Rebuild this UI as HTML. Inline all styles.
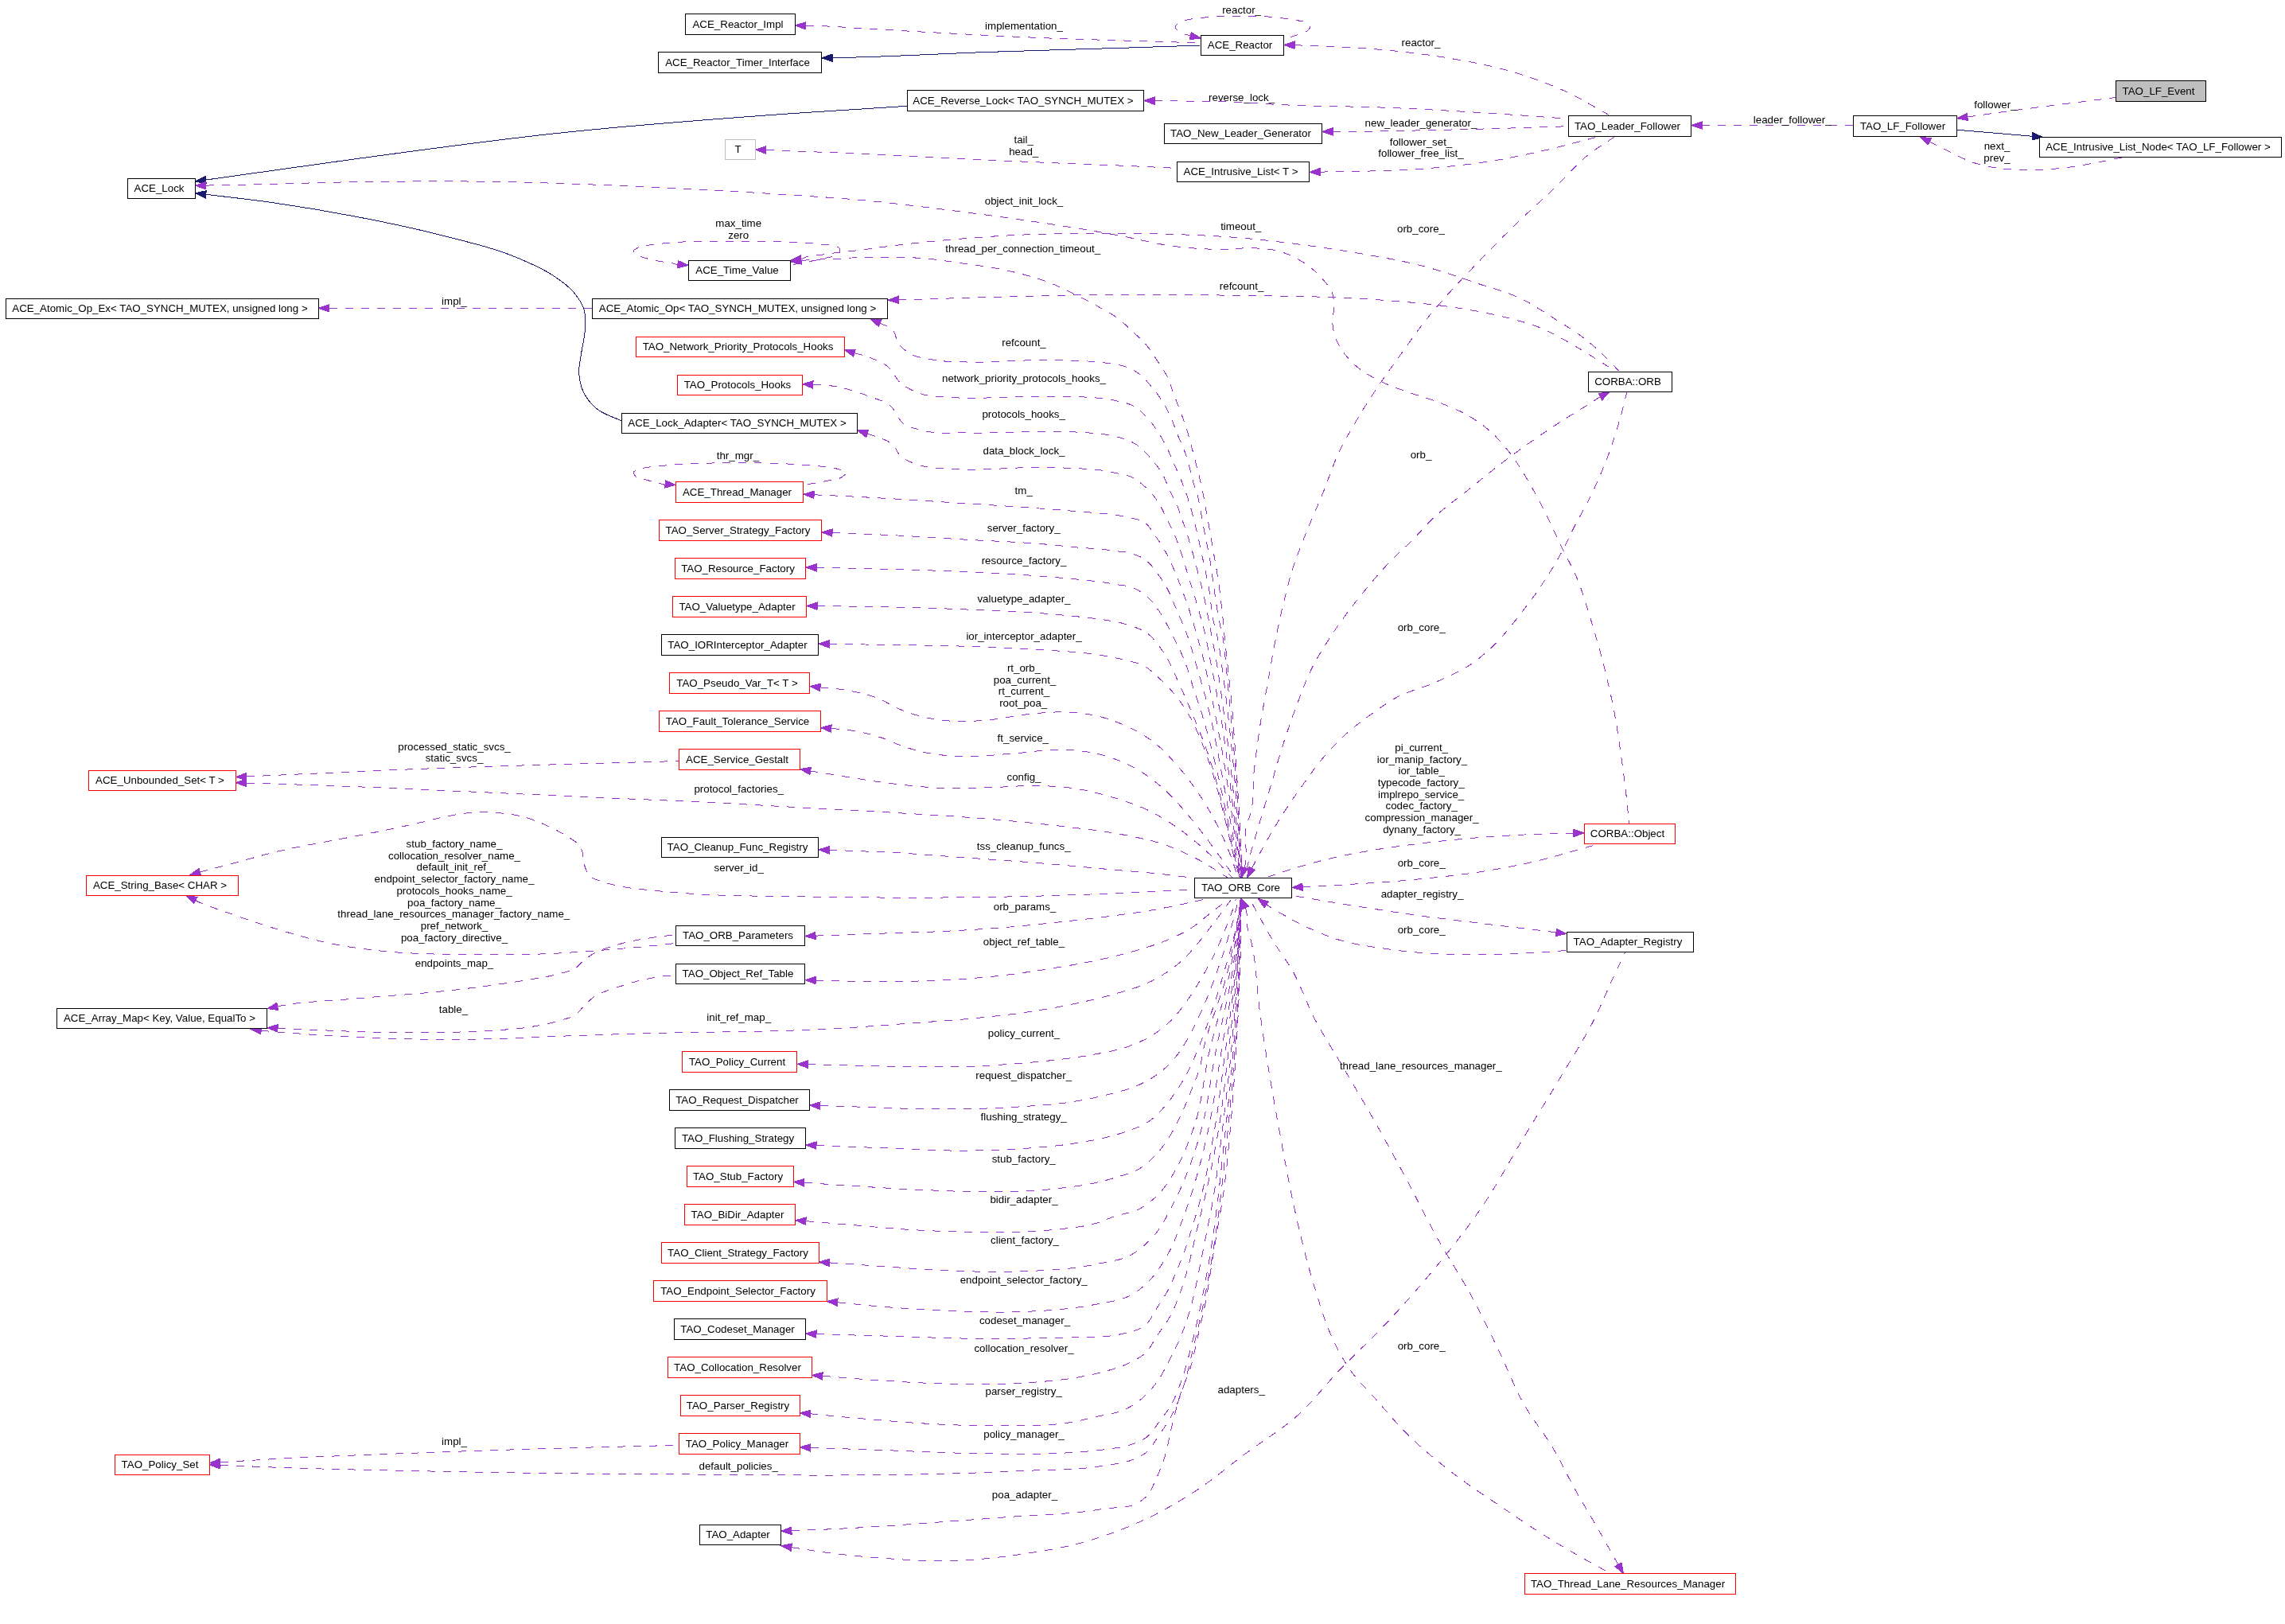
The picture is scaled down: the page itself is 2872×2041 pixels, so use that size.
<!DOCTYPE html>
<html><head><meta charset="utf-8"><title>TAO_LF_Event collaboration graph</title>
<style>html,body{margin:0;padding:0;background:#fff}svg{display:block;will-change:transform}</style></head>
<body>
<svg width="2872" height="2041" viewBox="0 0 2872 2041">
<rect width="2872" height="2041" fill="#fff"/>
<g fill="none" stroke-width="1" shape-rendering="crispEdges">
<path d="M1046.1,72.7C1050.7,72.6 1055.4,72.5 1060.0,72.4C1121.7,71.2 1183.3,67.4 1245.0,65.3C1306.3,63.2 1367.7,61.7 1429.0,59.7C1455.5,58.8 1482.1,57.9 1508.6,57.0" stroke="#191970"/>
<path d="M258.7,226.1C272.4,224.2 286.2,222.2 300.0,220.3C348.3,213.5 396.6,206.6 445.0,200.0C529.9,188.5 614.8,176.6 700.0,167.5C799.8,156.8 899.9,149.4 1000.0,142.3C1046.7,139.0 1093.5,136.3 1140.3,133.3" stroke="#191970"/>
<path d="M258.7,244.3C285.8,247.6 313.0,250.5 340.0,254.3C375.1,259.3 410.1,265.1 445.0,271.8C480.2,278.5 515.3,285.6 550.0,294.5C585.4,303.6 621.5,311.3 655.0,326.0C668.2,331.8 681.7,337.4 693.7,345.3C703.7,351.9 714.2,358.6 721.7,368.0C726.8,374.3 731.7,381.2 734.0,389.0C736.0,395.7 735.7,403.0 735.7,410.0C735.6,421.8 732.0,433.3 730.5,445.0C729.5,453.2 727.1,461.4 727.7,469.6C728.3,478.0 730.2,486.5 734.0,494.0C737.7,501.4 743.4,508.0 749.7,513.4C758.6,521.1 770.7,523.8 781.2,529.0" stroke="#191970"/>
<path d="M2554.6,171.3C2549.7,170.9 2544.9,170.4 2540.0,170.0C2513.2,167.6 2486.5,165.5 2459.7,163.2" stroke="#191970"/>
<path d="M1012.8,32.3C1018.5,32.4 1024.3,32.4 1030.0,32.6C1050.7,33.2 1071.3,35.0 1092.0,36.2C1122.7,38.0 1153.3,39.8 1184.0,41.4C1224.7,43.6 1265.3,45.8 1306.0,47.5C1347.0,49.2 1388.0,50.2 1429.0,51.5C1455.5,52.3 1482.1,53.1 1508.6,53.9" stroke="#9a32cd" stroke-dasharray="10 10"/>
<path d="M1496.3,45.1C1496.5,45.2 1496.8,45.3 1497.0,45.3C1498.8,45.7 1493.5,44.3 1491.8,43.8C1490.2,43.3 1488.6,42.9 1487.0,42.2C1484.4,41.1 1481.5,40.1 1479.7,38.0C1478.6,36.8 1477.1,35.3 1477.3,33.7C1477.4,32.3 1478.7,31.3 1479.7,30.3C1482.1,27.8 1485.8,27.1 1489.0,26.0C1491.5,25.1 1494.0,24.5 1496.6,24.0C1501.3,23.0 1506.2,22.8 1511.0,22.3C1517.7,21.6 1524.5,20.9 1531.2,20.5C1539.6,20.0 1547.9,20.2 1556.3,20.2C1565.9,20.2 1575.6,19.9 1585.2,20.4C1592.6,20.8 1600.0,21.4 1607.3,22.3C1613.8,23.1 1620.2,24.0 1626.6,25.2C1631.4,26.1 1636.8,25.8 1641.0,28.4C1643.2,29.8 1646.9,31.1 1646.8,33.7C1646.7,35.4 1645.2,36.8 1644.0,38.0C1642.2,39.8 1639.5,40.4 1637.2,41.4C1632.2,43.6 1627.0,45.1 1621.8,46.7C1619.1,47.5 1616.3,48.2 1613.6,49.0" stroke="#9a32cd" stroke-dasharray="10 10"/>
<path d="M1627.1,56.8C1634.7,57.0 1642.4,57.2 1650.0,57.5C1674.2,58.4 1698.4,59.4 1722.5,61.3C1753.3,63.8 1784.0,67.0 1814.5,72.0C1845.4,77.1 1876.5,82.7 1906.4,91.9C1927.2,98.3 1947.8,105.8 1967.6,114.9C1987.1,123.8 2005.2,135.3 2024.0,145.5" stroke="#9a32cd" stroke-dasharray="10 10"/>
<path d="M1451.3,126.7C1460.9,126.8 1470.4,126.9 1480.0,127.0C1503.7,127.3 1527.4,127.0 1551.0,128.0C1567.4,128.7 1583.7,130.2 1600.0,131.1C1651.0,133.9 1702.2,133.4 1753.2,135.7C1794.1,137.5 1834.9,139.9 1875.7,142.5C1907.4,144.5 1939.0,147.0 1970.7,149.2" stroke="#9a32cd" stroke-dasharray="10 10"/>
<path d="M1675.1,165.4C1683.4,165.3 1691.7,165.3 1700.0,165.3C1727.9,165.1 1755.9,164.5 1783.8,163.9C1824.7,163.1 1865.5,162.0 1906.4,160.8C1928.0,160.2 1949.7,159.4 1971.3,158.7" stroke="#9a32cd" stroke-dasharray="10 10"/>
<path d="M962.8,188.5C975.2,189.0 987.6,189.5 1000.0,190.0C1030.7,191.2 1061.3,192.2 1092.0,193.6C1132.8,195.4 1173.7,197.8 1214.5,199.8C1255.3,201.7 1296.2,203.6 1337.0,205.3C1367.7,206.6 1398.3,207.6 1429.0,209.0C1445.8,209.8 1462.7,210.6 1479.5,211.4" stroke="#9a32cd" stroke-dasharray="10 10"/>
<path d="M1659.3,216.1C1680.4,215.7 1701.4,215.7 1722.5,215.0C1753.2,214.0 1783.9,212.9 1814.5,209.9C1835.0,207.9 1855.4,205.5 1875.7,202.2C1896.3,198.9 1916.7,194.5 1937.0,190.0C1960.7,184.7 1984.0,178.1 2007.5,172.2" stroke="#9a32cd" stroke-dasharray="10 10"/>
<path d="M2139.3,157.5C2159.5,157.6 2179.8,157.6 2200.0,157.7C2243.0,157.8 2286.0,157.9 2329.0,158.0" stroke="#9a32cd" stroke-dasharray="10 10"/>
<path d="M2472.9,147.0C2491.4,144.4 2509.9,141.7 2528.5,139.2C2572.1,133.3 2615.7,128.1 2659.3,122.5" stroke="#9a32cd" stroke-dasharray="10 10"/>
<path d="M2425.3,178.0C2430.5,180.7 2435.7,183.4 2441.0,186.0C2455.3,193.1 2469.4,201.1 2484.7,205.7C2501.6,210.8 2519.5,212.6 2537.2,213.6C2556.1,214.6 2575.1,212.9 2594.0,211.0C2619.1,208.4 2643.7,202.2 2668.5,197.8" stroke="#9a32cd" stroke-dasharray="10 10"/>
<path d="M413.9,387.3C425.9,387.3 438.0,387.3 450.0,387.3C548.2,387.3 646.3,387.3 744.5,387.3" stroke="#9a32cd" stroke-dasharray="10 10"/>
<path d="M258.8,233.1C274.2,232.8 289.6,232.5 305.0,232.2C351.7,231.3 398.3,229.4 445.0,228.7C509.2,227.8 573.5,227.4 637.7,228.7C678.5,229.5 719.2,231.0 760.0,232.6C806.7,234.4 853.4,236.6 900.0,239.2C933.3,241.1 966.7,243.3 1000.0,245.5C1024.2,247.1 1048.4,248.5 1072.5,250.6C1113.4,254.1 1154.2,259.3 1195.0,264.4C1225.7,268.2 1256.4,272.3 1287.0,276.7C1307.4,279.6 1327.7,282.6 1348.0,285.9C1368.6,289.2 1389.1,292.8 1409.6,296.6C1430.0,300.4 1450.2,306.0 1470.8,308.8C1491.1,311.6 1511.5,313.1 1532.0,313.4C1547.3,313.6 1562.7,311.0 1578.0,311.9C1587.0,312.4 1596.2,312.8 1605.0,315.0C1614.8,317.5 1624.2,321.6 1633.0,326.7C1643.0,332.5 1652.5,339.7 1660.2,348.3C1666.0,354.8 1672.5,361.6 1675.0,370.0C1676.5,375.2 1676.4,380.8 1676.5,386.3C1676.7,393.5 1674.3,400.8 1675.0,408.0C1675.8,416.4 1678.3,424.7 1682.0,432.3C1685.9,440.4 1691.8,447.5 1698.0,454.0C1706.5,462.9 1717.3,469.5 1728.0,475.6C1739.0,481.8 1751.1,486.0 1763.0,490.5C1776.4,495.6 1790.4,498.9 1803.8,504.0C1817.6,509.3 1831.6,514.3 1844.4,521.7C1853.9,527.2 1863.1,533.5 1871.5,540.7C1881.7,549.4 1890.4,559.8 1898.6,570.4C1907.8,582.3 1915.4,595.4 1923.0,608.4C1930.8,621.6 1937.8,635.3 1944.6,649.0C1950.0,659.9 1954.8,671.0 1960.0,682.0C1967.3,697.3 1976.0,712.0 1982.5,727.7C1989.0,743.6 1993.7,760.1 1998.8,776.5C2004.6,795.3 2010.1,814.2 2015.0,833.3C2020.1,853.1 2024.7,873.0 2028.6,893.0C2032.4,912.7 2035.2,932.6 2038.0,952.5C2040.5,970.5 2042.9,988.6 2044.8,1006.7C2045.8,1016.1 2046.6,1025.6 2047.5,1035.0" stroke="#9a32cd" stroke-dasharray="10 10"/>
<path d="M851.9,332.2C852.1,332.4 852.3,332.5 852.5,332.6C854.0,333.7 848.8,331.7 847.0,331.3C843.4,330.5 839.7,330.1 836.0,329.5C832.3,328.9 828.5,328.4 824.8,327.7C820.6,326.9 816.3,325.9 812.2,324.6C807.9,323.2 803.1,322.5 799.6,319.7C798.3,318.7 796.2,317.9 796.0,316.2C795.7,314.0 799.1,312.9 801.0,311.7C805.4,308.8 811.2,309.0 816.4,308.0C822.9,306.8 829.5,306.3 836.0,305.7C843.5,305.0 850.9,304.4 858.4,304.0C869.6,303.4 880.8,303.4 892.0,303.3C906.0,303.1 920.0,303.3 934.0,303.3C948.0,303.3 962.0,303.2 976.0,303.6C987.7,303.9 999.4,304.1 1011.0,305.0C1018.0,305.5 1025.0,306.2 1032.0,307.0C1037.7,307.6 1043.5,307.5 1049.0,309.2C1050.9,309.8 1053.2,309.8 1054.5,311.3C1055.3,312.2 1055.9,313.3 1056.0,314.5C1056.1,315.9 1055.2,317.1 1054.5,318.3C1051.7,323.0 1044.3,322.4 1039.0,324.0C1032.1,326.1 1025.0,327.1 1018.0,328.5C1009.9,330.2 1001.7,331.7 993.6,333.3" stroke="#9a32cd" stroke-dasharray="10 10"/>
<path d="M1006.8,325.6C1006.9,325.6 1006.9,325.6 1007.0,325.6C1009.2,325.3 1010.9,323.7 1013.0,323.0C1018.7,321.0 1025.0,321.3 1031.0,320.4C1037.7,319.5 1044.3,318.4 1051.0,317.6C1057.5,316.8 1064.1,316.2 1070.6,315.5C1077.4,314.7 1084.2,313.9 1091.0,313.0C1095.0,312.5 1099.0,311.9 1103.0,311.3C1133.6,307.1 1164.3,303.9 1195.0,301.2C1225.6,298.5 1256.3,296.3 1287.0,295.0C1317.6,293.7 1348.3,293.6 1379.0,293.5C1409.7,293.4 1440.3,293.4 1471.0,294.4C1500.7,295.3 1530.4,296.5 1560.0,299.0C1582.6,300.9 1605.2,303.5 1627.7,306.4C1654.9,309.9 1682.0,313.8 1709.0,318.5C1736.1,323.2 1763.4,327.8 1790.0,334.8C1813.0,340.9 1835.4,348.9 1858.0,356.5C1876.1,362.6 1894.8,367.1 1912.0,375.4C1926.3,382.3 1939.3,391.4 1952.7,399.8C1966.5,408.5 1980.6,416.8 1993.4,426.9C2002.9,434.5 2011.9,442.7 2020.5,451.3C2025.6,456.4 2030.4,461.8 2035.4,467.0" stroke="#9a32cd" stroke-dasharray="10 10"/>
<path d="M1006.8,327.3C1008.9,327.2 1010.9,327.1 1013.0,327.0C1019.0,326.7 1025.0,326.2 1031.0,326.0C1036.5,325.8 1042.0,325.8 1047.5,325.6C1055.2,325.3 1062.9,324.4 1070.6,324.0C1077.1,323.7 1083.5,323.6 1090.0,323.5C1114.8,323.1 1139.8,322.8 1164.5,325.0C1179.7,326.4 1194.9,328.9 1210.0,331.0C1225.4,333.2 1240.8,334.9 1256.0,338.0C1276.9,342.2 1297.7,347.3 1317.6,354.8C1333.4,360.8 1348.6,368.5 1363.6,376.3C1369.0,379.1 1374.4,382.0 1379.7,385.0C1388.1,389.7 1396.7,394.0 1404.4,399.7C1411.4,404.9 1417.6,411.0 1424.0,417.0C1429.9,422.6 1436.1,428.0 1441.3,434.2C1446.4,440.3 1450.5,447.2 1454.9,453.9C1459.1,460.4 1463.8,466.6 1467.2,473.6C1470.3,479.9 1472.1,486.8 1474.6,493.4C1477.1,499.9 1479.5,506.5 1482.0,513.0C1484.5,519.6 1487.1,526.1 1489.4,532.8C1493.8,545.7 1497.0,559.0 1500.5,572.2C1504.0,585.3 1507.4,598.4 1510.3,611.6C1513.1,624.7 1515.3,637.9 1517.7,651.0C1520.1,664.2 1522.3,677.3 1524.6,690.5C1526.9,703.7 1529.4,716.8 1531.3,730.0C1533.2,743.1 1534.8,756.2 1536.2,769.4C1537.6,782.2 1538.6,795.1 1539.9,808.0C1541.3,821.3 1542.9,834.7 1544.3,848.0C1545.7,861.0 1547.1,874.0 1548.3,887.0C1549.5,900.3 1550.4,913.7 1551.4,927.0C1552.3,939.7 1553.2,952.3 1554.0,965.0C1555.4,986.1 1556.7,1007.2 1557.8,1028.3C1558.5,1040.9 1559.0,1053.4 1559.6,1066.0C1560.2,1078.3 1560.9,1090.7 1561.6,1103.0" stroke="#9a32cd" stroke-dasharray="10 10"/>
<path d="M1129.3,376.8C1139.5,376.6 1149.8,376.3 1160.0,376.0C1192.1,375.1 1224.3,374.0 1256.4,373.2C1307.5,371.9 1358.5,370.4 1409.6,370.1C1459.7,369.8 1509.9,370.7 1560.0,371.4C1596.1,371.9 1632.2,372.0 1668.3,373.5C1695.4,374.6 1722.5,375.9 1749.6,378.1C1772.2,379.9 1794.8,381.8 1817.3,384.9C1840.0,388.1 1862.7,391.7 1885.0,397.1C1903.3,401.6 1921.8,405.9 1939.2,413.3C1953.3,419.3 1966.5,427.3 1979.8,435.0C1991.7,441.9 2003.3,449.4 2015.0,456.7C2020.4,460.1 2025.9,463.6 2031.3,467.0" stroke="#9a32cd" stroke-dasharray="10 10"/>
<path d="M836.1,608.3C836.2,608.4 836.3,608.5 836.4,608.6C839.5,611.1 828.7,607.1 824.8,606.2C820.2,605.2 815.5,604.1 811.0,602.8C807.0,601.6 801.8,601.9 799.0,598.8C797.9,597.6 796.6,596.2 796.4,594.5C796.0,590.9 802.6,590.7 805.9,589.3C812.9,586.4 820.8,586.8 828.3,585.9C836.3,584.9 844.4,584.2 852.4,583.6C868.5,582.4 884.6,582.2 900.7,581.9C917.9,581.6 935.2,581.6 952.4,581.9C966.8,582.2 981.1,582.5 995.5,583.3C1007.0,583.9 1018.6,584.5 1030.0,585.9C1037.5,586.8 1045.3,586.8 1052.4,589.3C1056.3,590.7 1064.7,590.5 1063.6,594.5C1063.0,596.4 1060.9,597.5 1059.3,598.8C1053.7,603.3 1045.6,602.9 1038.6,604.5C1029.0,606.7 1019.2,607.8 1009.5,609.5" stroke="#9a32cd" stroke-dasharray="10 10"/>
<path d="M1106.2,406.2C1106.7,406.4 1107.3,406.7 1107.8,406.9C1112.9,409.2 1118.8,411.0 1122.5,415.3C1126.1,419.5 1125.7,426.0 1128.7,430.6C1131.9,435.5 1136.3,439.6 1141.0,442.9C1149.7,449.0 1161.2,449.9 1171.6,452.0C1185.7,454.8 1200.2,454.4 1214.5,455.0C1245.0,456.2 1275.5,452.6 1306.0,452.7C1326.5,452.8 1347.0,452.5 1367.4,454.0C1375.6,454.6 1383.8,455.2 1392.0,456.4C1398.6,457.4 1405.3,458.0 1411.7,460.0C1418.2,462.1 1424.6,464.8 1430.2,468.7C1436.4,473.0 1441.3,479.0 1446.3,484.7C1451.7,490.9 1456.6,497.5 1461.0,504.4C1465.2,511.1 1468.9,518.2 1472.1,525.4C1474.9,531.8 1476.9,538.5 1479.5,545.0C1482.2,551.7 1485.6,558.1 1488.1,564.8C1490.5,571.3 1492.4,577.9 1494.3,584.5C1496.1,591.0 1497.4,597.7 1499.2,604.2C1501.1,610.9 1503.6,617.3 1505.4,624.0C1508.9,636.9 1510.3,650.3 1512.8,663.4C1515.4,676.5 1518.4,689.6 1520.7,702.8C1522.9,715.9 1524.3,729.1 1526.3,742.2C1528.3,755.2 1529.9,768.2 1532.5,781.0C1533.8,787.4 1535.6,793.6 1536.8,800.0C1539.2,812.9 1539.8,826.0 1541.2,839.0C1542.6,852.3 1543.8,865.7 1545.1,879.0C1546.4,892.3 1547.6,905.7 1548.8,919.0C1549.3,925.0 1549.9,931.0 1550.4,937.0C1555.2,992.2 1557.6,1047.7 1561.2,1103.0" stroke="#9a32cd" stroke-dasharray="10 10"/>
<path d="M1074.0,443.6C1080.0,445.4 1086.2,446.8 1092.0,449.0C1100.5,452.2 1109.4,455.4 1116.4,461.3C1122.8,466.7 1125.4,475.7 1131.7,481.2C1137.9,486.6 1145.6,490.3 1153.2,493.4C1167.5,499.2 1183.6,498.4 1199.0,499.6C1224.5,501.7 1250.1,499.1 1275.7,499.0C1303.8,498.9 1331.9,497.1 1360.0,498.8C1368.2,499.3 1376.4,499.7 1384.6,500.7C1391.2,501.5 1397.9,502.5 1404.4,504.0C1410.6,505.4 1417.1,506.6 1422.8,509.4C1429.9,512.9 1435.8,518.5 1441.3,524.2C1447.0,530.1 1451.6,537.0 1456.1,543.9C1460.2,550.2 1463.8,556.8 1467.2,563.6C1470.4,570.0 1472.9,576.7 1475.8,583.3C1478.7,589.9 1481.7,596.4 1484.4,603.0C1487.0,609.5 1489.5,616.1 1491.8,622.7C1496.2,635.6 1499.6,648.9 1502.9,662.2C1506.2,675.2 1508.8,688.4 1511.6,701.6C1514.4,714.7 1517.5,727.8 1519.7,741.0C1521.9,753.9 1522.3,767.2 1525.0,780.0C1526.4,786.7 1528.5,793.3 1530.0,800.0C1532.8,812.9 1534.2,826.0 1536.0,839.0C1537.9,852.3 1539.6,865.7 1541.2,879.0C1542.8,892.0 1544.2,905.0 1545.7,918.0C1546.4,924.3 1547.1,930.7 1547.8,937.0C1553.7,992.2 1556.5,1047.7 1560.8,1103.0" stroke="#9a32cd" stroke-dasharray="10 10"/>
<path d="M1021.9,483.4C1027.9,483.7 1033.9,483.7 1039.8,484.3C1057.7,486.1 1075.2,491.6 1092.0,498.0C1101.4,501.6 1111.8,503.8 1119.5,510.3C1126.2,516.0 1127.9,526.4 1134.8,531.7C1141.7,537.0 1150.9,538.7 1159.3,541.0C1177.1,545.8 1196.1,543.5 1214.5,544.0C1245.1,544.9 1275.8,542.3 1306.4,542.5C1326.7,542.6 1347.1,542.3 1367.4,543.9C1375.2,544.5 1383.1,545.0 1390.8,546.3C1397.4,547.4 1404.1,548.6 1410.5,550.8C1417.4,553.1 1424.2,555.8 1430.2,559.9C1436.4,564.2 1441.3,570.2 1446.3,575.9C1451.7,582.1 1456.9,588.5 1461.0,595.6C1464.6,601.8 1466.7,608.8 1469.7,615.3C1472.8,621.9 1476.7,628.2 1479.5,635.0C1482.2,641.4 1484.1,648.2 1486.4,654.8C1488.7,661.4 1491.0,667.9 1493.1,674.5C1497.3,687.5 1500.7,700.7 1504.2,713.9C1507.7,727.0 1511.1,740.1 1514.0,753.3C1516.8,766.1 1519.1,779.1 1521.6,792.0C1524.1,805.0 1526.7,818.0 1528.9,831.0C1531.1,844.3 1533.0,857.7 1534.9,871.0C1536.7,884.0 1538.4,897.0 1540.1,910.0C1541.0,916.7 1541.9,923.3 1542.8,930.0C1550.4,987.5 1554.5,1045.3 1560.4,1103.0" stroke="#9a32cd" stroke-dasharray="10 10"/>
<path d="M1090.2,545.1C1093.8,546.3 1097.4,547.3 1101.0,548.6C1108.5,551.4 1116.8,553.7 1122.5,559.3C1126.5,563.1 1127.8,569.2 1131.7,573.0C1137.4,578.6 1145.7,581.1 1153.2,583.8C1167.7,589.0 1183.7,588.1 1199.0,589.3C1234.7,592.1 1270.6,587.0 1306.4,587.5C1324.3,587.7 1342.2,587.9 1360.0,589.0C1367.4,589.5 1374.8,589.7 1382.2,590.7C1388.8,591.6 1395.4,593.0 1401.9,594.4C1408.5,595.8 1415.4,596.5 1421.6,599.3C1428.0,602.2 1433.6,606.9 1438.9,611.6C1445.4,617.4 1451.3,624.1 1456.1,631.4C1460.1,637.5 1462.7,644.5 1466.0,651.0C1469.3,657.6 1472.9,664.0 1475.8,670.8C1478.6,677.2 1480.9,683.9 1483.2,690.5C1485.4,697.0 1487.4,703.6 1489.4,710.2C1491.5,716.8 1493.4,723.4 1495.5,730.0C1497.5,736.5 1499.7,743.0 1501.7,749.6C1503.9,757.0 1505.9,764.5 1508.0,772.0C1509.5,777.3 1511.1,782.6 1512.5,788.0C1515.9,801.2 1518.2,814.6 1520.9,828.0C1523.5,841.0 1526.0,854.0 1528.4,867.0C1530.9,880.3 1533.4,893.6 1535.5,907.0C1536.5,913.3 1537.4,919.7 1538.3,926.0C1546.8,984.8 1552.8,1044.0 1560.0,1103.0" stroke="#9a32cd" stroke-dasharray="10 10"/>
<path d="M1023.1,621.8C1032.1,622.2 1041.0,622.6 1050.0,623.0C1069.1,623.9 1088.1,624.9 1107.2,626.0C1143.0,628.0 1178.7,630.5 1214.5,632.8C1245.1,634.8 1275.8,636.7 1306.4,639.0C1324.3,640.3 1342.1,641.8 1360.0,643.2C1367.0,643.8 1374.0,644.3 1381.0,644.9C1387.6,645.5 1394.2,645.9 1400.7,646.9C1406.9,647.8 1413.0,649.1 1419.1,650.6C1425.3,652.1 1432.1,652.7 1437.6,656.0C1444.8,660.4 1448.7,668.8 1453.6,675.7C1458.1,682.0 1462.3,688.6 1466.0,695.4C1469.5,701.8 1472.4,708.4 1475.3,715.1C1478.1,721.6 1480.6,728.2 1483.2,734.8C1485.7,741.4 1488.2,748.0 1490.6,754.6C1492.8,760.9 1495.0,767.3 1497.0,773.7C1499.0,780.1 1500.9,786.6 1502.8,793.0C1506.6,805.9 1510.3,818.9 1513.5,832.0C1516.7,845.1 1519.2,858.3 1522.0,871.5C1524.7,884.7 1527.4,897.8 1530.0,911.0C1531.2,917.3 1532.4,923.7 1533.6,930.0C1544.2,987.3 1550.9,1045.3 1559.6,1103.0" stroke="#9a32cd" stroke-dasharray="10 10"/>
<path d="M1046.1,669.5C1054.1,669.9 1062.0,670.2 1070.0,670.5C1087.5,671.2 1105.0,671.9 1122.5,672.7C1153.2,674.2 1183.8,676.4 1214.5,678.2C1245.1,680.0 1275.8,680.9 1306.4,683.4C1324.3,684.8 1342.1,687.1 1360.0,688.5C1367.4,689.1 1374.8,689.3 1382.2,690.0C1388.8,690.7 1395.3,691.6 1401.9,692.5C1408.5,693.4 1415.2,693.5 1421.6,695.4C1428.1,697.3 1434.6,700.0 1440.1,704.0C1446.7,708.8 1451.3,715.9 1456.1,722.5C1460.7,728.7 1464.8,735.3 1468.4,742.2C1471.7,748.6 1474.1,755.4 1477.0,762.0C1479.8,768.3 1482.6,774.6 1485.3,781.0C1487.9,787.3 1490.5,793.6 1492.8,800.0C1497.5,813.1 1500.9,826.6 1504.8,840.0C1508.6,853.0 1512.6,865.9 1516.0,879.0C1519.4,891.9 1522.6,904.9 1525.3,918.0C1526.6,924.3 1527.8,930.7 1529.0,937.0C1539.7,992.2 1549.1,1047.7 1559.2,1103.0" stroke="#9a32cd" stroke-dasharray="10 10"/>
<path d="M1026.2,713.3C1037.5,713.5 1048.7,713.7 1060.0,714.0C1080.8,714.5 1101.7,715.0 1122.5,715.6C1153.2,716.5 1183.8,717.2 1214.5,718.6C1245.2,720.0 1275.8,721.6 1306.4,724.0C1324.3,725.4 1342.2,726.8 1360.0,728.7C1367.4,729.5 1374.8,730.2 1382.2,731.2C1388.8,732.1 1395.3,733.3 1401.9,734.4C1408.5,735.5 1415.3,735.6 1421.6,737.8C1428.3,740.2 1434.6,743.9 1440.1,748.4C1446.5,753.5 1451.4,760.3 1456.1,766.9C1460.5,773.1 1464.0,780.0 1467.7,786.7C1471.2,793.0 1474.4,799.5 1477.6,806.0C1480.8,812.6 1484.2,819.2 1487.0,826.0C1489.6,832.2 1491.8,838.6 1493.9,845.0C1496.1,851.6 1497.9,858.4 1500.0,865.0C1502.0,871.4 1504.3,877.6 1506.4,884.0C1508.6,890.6 1510.7,897.3 1512.7,904.0C1514.6,910.3 1516.3,916.7 1518.0,923.0C1534.2,982.3 1545.2,1043.0 1558.8,1103.0" stroke="#9a32cd" stroke-dasharray="10 10"/>
<path d="M1027.1,761.6C1038.1,761.7 1049.0,761.8 1060.0,762.0C1080.8,762.3 1101.7,762.5 1122.5,763.0C1153.2,763.7 1183.8,764.7 1214.5,766.0C1245.1,767.3 1275.8,768.3 1306.4,770.6C1324.3,772.0 1342.2,773.5 1360.0,775.5C1367.7,776.4 1375.4,777.1 1383.0,778.3C1395.5,780.2 1408.1,781.9 1420.0,786.0C1427.5,788.6 1435.3,791.0 1441.7,795.6C1448.4,800.4 1453.4,807.4 1458.3,814.0C1462.8,820.1 1466.7,826.6 1470.3,833.3C1473.7,839.7 1476.2,846.4 1479.2,853.0C1482.1,859.3 1485.0,865.6 1487.8,872.0C1490.8,878.6 1493.7,885.3 1496.5,892.0C1498.9,897.6 1501.2,903.3 1503.5,909.0C1506.2,915.7 1509.0,922.3 1511.6,929.0C1533.4,985.0 1542.8,1045.0 1558.4,1103.0" stroke="#9a32cd" stroke-dasharray="10 10"/>
<path d="M1042.3,809.4C1051.5,809.5 1060.8,809.7 1070.0,809.8C1087.5,810.0 1105.0,810.2 1122.5,810.5C1153.2,811.0 1183.8,811.3 1214.5,812.3C1245.1,813.3 1275.8,814.5 1306.4,816.6C1332.0,818.4 1357.7,819.1 1383.0,823.3C1395.4,825.4 1407.9,827.7 1420.0,831.0C1425.5,832.5 1431.2,833.5 1436.3,836.0C1443.9,839.6 1449.7,846.0 1456.0,851.6C1462.1,857.1 1468.0,862.8 1473.4,869.0C1478.7,875.1 1483.5,881.6 1488.0,888.3C1492.0,894.3 1495.7,900.6 1499.0,907.0C1502.4,913.5 1505.1,920.3 1508.0,927.0C1532.2,983.0 1541.3,1044.3 1558.0,1103.0" stroke="#9a32cd" stroke-dasharray="10 10"/>
<path d="M1031.0,863.9C1041.1,864.9 1051.3,865.4 1061.3,867.0C1075.8,869.4 1090.3,872.5 1104.0,877.9C1113.6,881.7 1122.2,887.8 1131.7,891.7C1140.7,895.4 1149.9,898.5 1159.3,900.8C1172.3,904.0 1185.7,905.7 1199.0,906.4C1214.3,907.3 1229.7,905.9 1245.0,904.5C1260.4,903.1 1275.6,899.4 1291.0,897.8C1306.3,896.2 1321.6,894.5 1337.0,895.0C1350.3,895.4 1363.8,896.4 1376.8,899.3C1389.4,902.1 1401.8,906.3 1413.6,911.6C1426.6,917.4 1439.2,924.3 1450.4,933.0C1461.9,941.8 1471.5,952.8 1481.0,963.7C1491.1,975.2 1500.2,987.6 1508.6,1000.4C1517.7,1014.1 1525.8,1028.5 1533.0,1043.3C1539.2,1056.2 1544.7,1069.5 1549.5,1083.0C1551.8,1089.6 1553.8,1096.3 1556.0,1103.0" stroke="#9a32cd" stroke-dasharray="10 10"/>
<path d="M1044.9,915.6C1050.3,916.0 1055.8,916.2 1061.3,916.8C1076.9,918.5 1092.3,922.1 1107.2,926.9C1117.7,930.3 1127.4,935.6 1137.9,939.0C1147.9,942.2 1158.1,944.9 1168.5,946.8C1183.6,949.6 1199.1,950.2 1214.5,950.5C1234.9,950.9 1255.3,948.2 1275.7,946.8C1296.1,945.4 1316.5,941.3 1337.0,942.2C1352.5,942.9 1368.0,944.4 1383.0,948.3C1399.0,952.4 1414.6,958.5 1429.0,966.7C1442.3,974.3 1454.4,984.0 1465.7,994.3C1476.9,1004.5 1486.5,1016.4 1496.3,1028.0C1507.1,1040.8 1517.1,1054.3 1527.0,1067.8C1535.5,1079.4 1543.7,1091.3 1552.0,1103.0" stroke="#9a32cd" stroke-dasharray="10 10"/>
<path d="M1018.6,968.9C1032.8,971.2 1047.1,973.6 1061.3,975.9C1081.7,979.1 1102.0,982.6 1122.5,985.0C1142.9,987.4 1163.3,989.5 1183.8,990.3C1204.2,991.1 1224.6,990.2 1245.0,989.7C1265.5,989.2 1285.9,986.9 1306.4,987.5C1321.7,988.0 1337.1,988.8 1352.3,991.2C1367.9,993.6 1383.2,997.5 1398.3,1002.0C1413.9,1006.7 1429.6,1011.7 1444.2,1018.8C1458.2,1025.6 1471.3,1034.2 1484.0,1043.3C1497.0,1052.6 1509.1,1063.1 1520.8,1074.0C1530.6,1083.2 1539.6,1093.3 1549.0,1103.0" stroke="#9a32cd" stroke-dasharray="10 10"/>
<path d="M309.6,984.0C337.7,984.9 365.8,985.7 393.9,986.7C452.3,988.7 510.6,991.4 569.0,994.0C627.3,996.5 685.7,999.4 744.0,1002.0C787.8,1003.9 831.5,1005.6 875.3,1007.7C916.9,1009.7 958.4,1012.2 1000.0,1014.5C1040.8,1016.7 1081.7,1018.8 1122.5,1021.3C1163.3,1023.8 1204.2,1026.0 1245.0,1029.5C1275.7,1032.1 1306.4,1035.0 1337.0,1038.7C1362.6,1041.8 1388.3,1044.4 1413.6,1049.4C1429.0,1052.5 1444.6,1055.3 1459.6,1060.2C1475.4,1065.4 1490.7,1072.3 1505.5,1080.0C1518.5,1086.8 1530.5,1095.3 1543.0,1103.0" stroke="#9a32cd" stroke-dasharray="10 10"/>
<path d="M1042.3,1068.3C1051.5,1068.6 1060.8,1068.9 1070.0,1069.3C1087.5,1070.0 1105.0,1070.6 1122.5,1071.5C1153.2,1073.1 1183.8,1075.8 1214.5,1078.0C1245.1,1080.2 1275.8,1082.2 1306.4,1084.7C1337.1,1087.2 1367.7,1090.2 1398.3,1093.0C1418.7,1094.8 1439.2,1096.3 1459.6,1098.5C1473.4,1100.0 1487.2,1101.8 1501.0,1103.5" stroke="#9a32cd" stroke-dasharray="10 10"/>
<path d="M1564.0,1090.5C1564.1,1090.1 1564.3,1089.7 1564.4,1089.3C1569.8,1071.8 1561.6,1051.8 1567.4,1034.5C1568.4,1031.5 1569.8,1028.7 1570.8,1025.7C1576.7,1008.5 1574.0,989.5 1576.0,971.5C1578.0,953.3 1580.2,935.1 1583.0,917.0C1585.7,898.9 1589.3,881.0 1592.5,863.0C1596.0,843.2 1599.3,823.3 1603.3,803.6C1606.6,787.3 1610.0,771.0 1614.0,754.8C1617.4,741.1 1620.7,727.4 1625.0,714.0C1629.7,699.3 1635.6,685.0 1641.3,670.6C1648.2,653.3 1656.0,636.3 1663.0,619.0C1669.5,602.9 1674.6,586.2 1682.0,570.4C1689.9,553.6 1699.4,537.6 1709.0,521.7C1716.7,508.8 1724.9,496.2 1733.3,483.8C1742.0,470.9 1751.3,458.4 1760.4,445.8C1770.2,432.2 1779.6,418.2 1790.0,405.0C1798.7,393.9 1808.0,383.3 1817.3,372.7C1830.4,357.9 1844.3,343.7 1858.0,329.4C1875.7,311.0 1893.6,292.8 1912.0,275.2C1924.5,263.3 1937.5,251.9 1950.0,240.0C1966.3,224.6 1980.5,206.7 1998.3,193.0C2008.1,185.4 2018.8,179.1 2029.0,172.2" stroke="#9a32cd" stroke-dasharray="10 10"/>
<path d="M1573.5,1091.3C1574.2,1090.0 1574.8,1088.7 1575.5,1087.4C1580.1,1078.5 1584.9,1069.6 1589.8,1060.9C1597.6,1047.1 1605.6,1033.5 1614.2,1020.2C1621.9,1008.2 1630.2,996.6 1638.5,985.0C1646.4,974.0 1654.2,962.8 1663.0,952.5C1671.5,942.5 1680.4,932.8 1690.0,924.0C1700.2,914.7 1711.3,906.5 1722.5,898.4C1733.0,890.8 1743.5,882.9 1755.0,876.7C1770.4,868.4 1787.9,864.8 1803.8,857.7C1818.5,851.1 1833.6,844.9 1847.0,836.0C1858.8,828.2 1869.5,818.9 1879.6,809.0C1890.6,798.2 1899.9,785.9 1909.4,773.8C1919.8,760.6 1929.9,747.0 1939.2,733.0C1947.9,719.9 1956.1,706.4 1963.6,692.5C1969.4,681.9 1974.2,670.7 1979.8,660.0C1985.0,649.9 1990.9,640.2 1996.0,630.0C2001.8,618.5 2007.3,606.7 2012.3,594.8C2017.2,583.2 2021.8,571.5 2025.9,559.6C2029.9,548.0 2033.4,536.2 2036.7,524.4C2039.7,513.8 2042.1,503.1 2044.8,492.4" stroke="#9a32cd" stroke-dasharray="10 10"/>
<path d="M2011.5,498.7C2011.0,499.0 2010.5,499.2 2010.0,499.5C2006.1,501.6 2002.5,504.4 1998.8,506.8C1988.1,513.7 1977.0,520.1 1966.3,527.0C1952.6,535.8 1939.0,544.9 1925.7,554.2C1911.9,563.8 1898.4,573.8 1885.0,584.0C1871.2,594.5 1857.9,605.7 1844.4,616.5C1830.9,627.3 1816.5,637.2 1803.8,649.0C1793.3,658.7 1784.2,669.9 1774.0,680.0C1766.0,687.9 1757.5,695.3 1749.6,703.3C1736.2,717.0 1723.8,731.8 1711.7,746.7C1698.3,763.2 1685.5,780.2 1673.8,798.0C1665.1,811.3 1656.5,824.7 1649.4,838.8C1641.9,853.6 1636.3,869.3 1630.4,884.8C1624.6,900.0 1619.3,915.4 1614.2,930.9C1608.3,948.8 1603.4,967.0 1598.0,985.0C1592.6,1003.0 1586.9,1020.9 1581.7,1039.0C1577.0,1055.3 1571.6,1071.4 1568.0,1088.0C1566.9,1093.0 1566.0,1098.0 1565.0,1103.0" stroke="#9a32cd" stroke-dasharray="10 10"/>
<path d="M1977.9,1047.0C1971.9,1047.1 1966.0,1047.2 1960.0,1047.3C1953.1,1047.5 1946.1,1047.7 1939.2,1048.0C1912.1,1049.0 1885.0,1050.5 1858.0,1052.7C1835.3,1054.5 1812.6,1056.8 1790.0,1059.5C1767.4,1062.2 1744.9,1065.1 1722.5,1069.0C1704.3,1072.1 1686.2,1075.5 1668.3,1079.8C1646.4,1085.1 1624.7,1091.7 1603.3,1098.8C1598.9,1100.3 1594.4,1101.8 1590.0,1103.3" stroke="#9a32cd" stroke-dasharray="10 10"/>
<path d="M1637.2,1114.7C1644.8,1114.3 1652.4,1113.9 1660.0,1113.5C1672.3,1112.8 1684.7,1112.2 1697.0,1111.4C1726.2,1109.6 1755.4,1107.7 1784.5,1104.8C1813.7,1101.9 1843.0,1098.8 1872.0,1093.9C1894.0,1090.2 1915.9,1086.0 1937.6,1080.7C1951.8,1077.2 1965.8,1073.0 1979.8,1069.0C1989.7,1066.2 1999.7,1063.3 2009.6,1060.5" stroke="#9a32cd" stroke-dasharray="10 10"/>
<path d="M1955.9,1171.9C1952.3,1171.4 1948.6,1170.9 1945.0,1170.5C1942.5,1170.2 1940.1,1169.9 1937.6,1169.6C1915.7,1166.9 1893.9,1164.4 1872.0,1161.7C1842.8,1158.1 1813.6,1154.8 1784.5,1150.8C1755.3,1146.8 1726.1,1142.2 1697.0,1137.6C1672.6,1133.7 1648.3,1129.5 1623.9,1125.4" stroke="#9a32cd" stroke-dasharray="10 10"/>
<path d="M1591.8,1136.9C1591.7,1136.9 1591.6,1136.8 1591.5,1136.7C1588.8,1134.7 1597.1,1140.4 1600.0,1142.2C1606.0,1145.9 1612.3,1149.3 1618.5,1152.7C1624.6,1156.1 1630.7,1159.4 1637.0,1162.5C1652.1,1169.9 1667.7,1176.5 1683.8,1181.4C1702.3,1187.0 1721.6,1189.5 1740.7,1192.3C1762.4,1195.5 1784.4,1197.6 1806.3,1198.9C1828.2,1200.1 1850.1,1200.2 1872.0,1199.8C1893.9,1199.4 1915.8,1198.1 1937.6,1196.7C1948.1,1196.0 1958.6,1195.2 1969.1,1194.5" stroke="#9a32cd" stroke-dasharray="10 10"/>
<path d="M994.8,1944.7C1010.1,1946.9 1025.3,1949.5 1040.7,1951.5C1062.5,1954.3 1084.4,1956.4 1106.3,1958.0C1135.4,1960.2 1164.7,1962.3 1193.9,1961.6C1223.2,1960.9 1252.4,1957.9 1281.4,1953.7C1310.9,1949.5 1340.4,1944.6 1369.0,1936.2C1396.0,1928.2 1422.4,1917.9 1447.7,1905.5C1467.3,1895.8 1486.1,1884.7 1504.4,1872.7C1525.7,1858.7 1545.1,1842.0 1565.6,1826.8C1587.4,1810.6 1611.1,1796.7 1631.3,1778.6C1650.5,1761.4 1665.9,1740.3 1683.8,1721.7C1702.4,1702.4 1722.3,1684.4 1740.7,1664.9C1763.4,1640.9 1785.3,1616.1 1806.3,1590.5C1826.1,1566.3 1845.6,1541.8 1863.2,1516.0C1882.4,1487.9 1898.2,1457.6 1915.8,1428.5C1931.7,1402.2 1948.2,1376.2 1963.9,1349.8C1977.3,1327.3 1991.5,1305.3 2003.3,1282.0C2011.2,1266.3 2017.8,1249.9 2025.2,1233.9C2031.0,1221.5 2036.9,1209.1 2042.7,1196.7" stroke="#9a32cd" stroke-dasharray="10 10"/>
<path d="M2033.9,1966.3C2033.2,1965.0 2032.4,1963.7 2031.7,1962.4C2025.1,1950.8 2018.6,1939.0 2012.0,1927.4C2002.0,1909.8 1991.3,1892.6 1981.4,1875.0C1970.9,1856.2 1961.9,1836.5 1950.8,1818.0C1940.0,1800.0 1926.2,1783.8 1915.8,1765.5C1903.8,1744.5 1895.5,1721.6 1885.0,1699.9C1873.6,1676.4 1862.4,1652.8 1850.0,1629.8C1836.3,1604.5 1820.3,1580.5 1806.3,1555.4C1791.1,1528.1 1777.5,1499.8 1762.6,1472.3C1748.3,1445.9 1733.8,1419.6 1718.8,1393.5C1708.7,1375.9 1698.3,1358.5 1688.0,1341.0C1676.4,1321.3 1663.9,1302.2 1653.2,1282.0C1641.9,1260.7 1634.9,1237.1 1622.5,1216.4C1616.7,1206.8 1609.7,1197.9 1603.8,1188.4C1596.8,1177.2 1590.5,1165.6 1584.0,1154.0C1579.4,1145.8 1575.0,1137.5 1570.5,1129.3" stroke="#9a32cd" stroke-dasharray="10 10"/>
<path d="M1565.3,1140.9C1565.4,1141.1 1565.5,1141.4 1565.6,1141.6C1568.8,1149.1 1566.4,1158.0 1568.0,1166.0C1569.1,1171.2 1570.9,1176.2 1572.2,1181.4C1579.3,1210.0 1579.2,1239.9 1583.2,1269.0C1586.5,1293.0 1590.1,1317.0 1594.0,1341.0C1598.7,1370.2 1604.0,1399.4 1609.4,1428.5C1616.2,1465.1 1622.8,1501.8 1631.3,1538.0C1637.9,1565.8 1644.6,1593.7 1653.2,1621.0C1659.7,1641.7 1665.7,1662.8 1675.0,1682.4C1681.4,1696.0 1688.4,1709.4 1697.0,1721.7C1705.9,1734.4 1717.3,1745.1 1727.6,1756.7C1742.0,1772.9 1755.8,1789.8 1771.3,1804.9C1789.1,1822.2 1808.5,1837.9 1828.2,1853.0C1846.5,1867.0 1865.9,1879.5 1885.0,1892.4C1902.4,1904.2 1919.8,1916.2 1937.6,1927.4C1952.0,1936.5 1966.6,1945.2 1981.4,1953.7C1994.4,1961.2 2007.7,1968.3 2020.8,1975.6" stroke="#9a32cd" stroke-dasharray="10 10"/>
<path d="M251.3,1096.1C251.4,1096.1 251.5,1096.0 251.6,1096.0C262.5,1093.0 273.5,1090.2 284.5,1087.3C306.4,1081.5 328.1,1075.0 350.1,1069.8C379.0,1063.0 408.4,1058.3 437.6,1052.6C451.7,1049.8 465.9,1047.2 480.0,1044.3C494.4,1041.3 508.8,1038.2 523.2,1035.0C536.1,1032.1 548.8,1028.5 561.8,1026.0C568.2,1024.7 574.7,1023.5 581.2,1022.6C587.6,1021.7 594.0,1021.0 600.5,1020.8C607.0,1020.6 613.4,1020.9 619.9,1021.3C626.3,1021.7 632.8,1022.1 639.2,1023.0C645.7,1023.9 652.2,1025.1 658.6,1026.8C665.2,1028.6 671.6,1031.0 677.9,1033.5C684.5,1036.1 691.0,1039.2 697.3,1042.4C703.9,1045.8 710.6,1049.0 716.6,1053.3C721.1,1056.5 726.5,1059.2 729.3,1064.0C730.6,1066.3 731.5,1068.8 732.2,1071.4C733.0,1074.3 732.8,1077.4 733.3,1080.4C733.7,1082.9 734.1,1085.4 734.8,1087.8C735.8,1091.2 736.9,1094.6 738.9,1097.5C740.5,1099.8 742.6,1101.8 744.9,1103.4C748.4,1105.8 752.8,1106.5 756.8,1107.9C764.1,1110.4 771.6,1112.2 779.1,1113.8C791.8,1116.5 804.9,1117.4 817.8,1118.8C836.9,1120.9 856.1,1122.4 875.3,1123.6C916.8,1126.3 958.4,1126.0 1000.0,1126.7C1035.4,1127.3 1070.9,1127.8 1106.3,1128.0C1164.7,1128.3 1223.0,1128.0 1281.4,1126.7C1325.2,1125.7 1368.9,1124.2 1412.7,1122.3C1442.1,1121.0 1471.6,1119.4 1501.0,1118.0" stroke="#9a32cd" stroke-dasharray="10 10"/>
<path d="M309.6,976.0C337.7,974.7 365.8,973.4 393.9,972.2C452.2,969.6 510.6,966.9 568.9,964.8C627.3,962.7 685.6,961.2 744.0,959.5C780.3,958.5 816.7,957.5 853.0,956.5" stroke="#9a32cd" stroke-dasharray="10 10"/>
<path d="M245.8,1131.6C246.3,1131.9 246.8,1132.1 247.3,1132.4C259.1,1138.5 272.0,1141.9 284.5,1146.4C306.2,1154.2 327.9,1161.7 350.0,1168.3C371.7,1174.8 393.6,1181.2 415.8,1185.8C437.5,1190.2 459.4,1193.1 481.4,1195.4C507.5,1198.1 533.8,1198.7 560.0,1199.4C584.7,1200.1 609.5,1199.9 634.2,1199.7C653.8,1199.5 673.4,1199.4 693.0,1198.5C706.1,1197.9 719.2,1196.9 732.3,1196.0C745.4,1195.1 758.4,1194.1 771.5,1193.0C784.6,1191.9 797.6,1190.9 810.7,1189.6C823.5,1188.3 836.4,1186.8 849.2,1185.4" stroke="#9a32cd" stroke-dasharray="10 10"/>
<path d="M348.7,1264.9C349.1,1264.8 349.6,1264.7 350.0,1264.6C378.7,1258.6 408.4,1258.6 437.6,1255.8C481.2,1251.7 524.9,1249.5 568.4,1244.5C587.8,1242.3 607.2,1239.9 626.5,1237.1C639.4,1235.3 652.2,1233.4 665.0,1231.2C678.2,1228.9 691.5,1227.3 704.3,1223.5C710.5,1221.7 717.0,1220.5 722.5,1217.2C727.6,1214.1 731.0,1208.9 735.8,1205.3C740.8,1201.5 746.2,1198.2 751.9,1195.5C757.7,1192.8 763.9,1191.1 770.0,1189.2C776.1,1187.3 782.1,1185.4 788.3,1183.9C794.3,1182.5 800.4,1181.5 806.5,1180.5C812.6,1179.5 818.6,1178.5 824.7,1177.7C830.8,1176.9 836.9,1175.9 843.0,1175.5C845.1,1175.4 847.1,1175.3 849.2,1175.2" stroke="#9a32cd" stroke-dasharray="10 10"/>
<path d="M349.0,1292.3C364.0,1293.0 378.9,1293.7 393.9,1294.3C423.1,1295.5 452.2,1296.9 481.4,1297.4C510.2,1297.9 538.9,1298.1 567.7,1297.3C587.3,1296.8 606.9,1296.2 626.5,1294.7C639.6,1293.7 652.7,1292.8 665.7,1290.8C678.7,1288.7 691.7,1286.4 704.3,1282.4C710.7,1280.4 717.7,1279.2 723.2,1275.4C727.3,1272.6 730.1,1268.3 733.7,1264.8C738.5,1260.2 742.8,1255.1 748.4,1251.5C754.0,1248.0 760.4,1246.1 766.6,1243.8C772.6,1241.6 778.7,1239.9 784.8,1238.0C790.8,1236.1 796.9,1234.1 803.0,1232.6C809.2,1231.0 815.6,1229.8 821.9,1228.7C827.5,1227.8 833.1,1226.8 838.7,1226.5C842.2,1226.3 845.7,1226.4 849.2,1226.3" stroke="#9a32cd" stroke-dasharray="10 10"/>
<path d="M328.2,1295.0C328.8,1295.1 329.4,1295.1 330.0,1295.2C344.0,1296.9 358.0,1297.6 372.0,1298.7C393.8,1300.4 415.7,1301.9 437.6,1303.0C466.8,1304.5 496.0,1305.6 525.2,1306.0C542.9,1306.3 560.5,1306.3 578.2,1306.2C596.9,1306.1 615.5,1305.8 634.2,1305.2C653.8,1304.6 673.4,1303.5 693.0,1302.7C712.9,1301.9 732.7,1301.3 752.6,1300.6C772.4,1299.9 792.3,1299.2 812.1,1298.7C831.5,1298.2 850.8,1297.9 870.2,1297.5C913.5,1296.6 956.8,1296.6 1000.0,1294.9C1024.5,1293.9 1049.0,1292.7 1073.5,1291.2C1098.0,1289.7 1122.5,1287.6 1147.0,1285.8C1171.5,1283.9 1196.1,1282.5 1220.6,1280.1C1245.1,1277.7 1269.7,1275.3 1294.1,1271.6C1314.6,1268.5 1335.1,1264.9 1355.4,1260.5C1371.8,1256.9 1388.3,1253.1 1404.4,1248.3C1416.8,1244.6 1429.4,1241.4 1441.2,1236.0C1449.7,1232.1 1457.9,1227.6 1465.7,1222.5C1473.5,1217.4 1480.9,1211.7 1487.7,1205.4C1494.9,1198.7 1501.1,1190.9 1507.4,1183.3C1513.3,1176.2 1518.9,1168.7 1524.5,1161.3C1529.5,1154.8 1534.3,1148.3 1539.2,1141.7C1542.1,1137.8 1544.9,1133.9 1547.8,1130.0" stroke="#9a32cd" stroke-dasharray="10 10"/>
<path d="M276.8,1837.8C301.2,1836.3 325.6,1834.7 350.0,1833.3C408.4,1830.1 466.8,1828.2 525.2,1826.0C583.5,1823.8 641.9,1821.9 700.2,1820.2C751.1,1818.7 802.1,1817.6 853.0,1816.3" stroke="#9a32cd" stroke-dasharray="10 10"/>
<path d="M276.8,1841.3C301.2,1842.3 325.6,1843.4 350.0,1844.3C408.4,1846.4 466.8,1847.5 525.2,1848.7C583.5,1849.9 641.9,1851.0 700.2,1851.7C758.6,1852.4 816.9,1852.5 875.3,1853.0C908.5,1853.3 941.8,1853.8 975.0,1853.9C1033.3,1854.1 1091.7,1854.2 1150.0,1853.0C1193.8,1852.1 1237.6,1850.9 1281.4,1848.7C1316.8,1846.9 1352.7,1848.1 1387.6,1842.0C1400.2,1839.8 1413.3,1839.1 1425.0,1834.0C1430.4,1831.7 1436.0,1829.2 1440.6,1825.5C1447.1,1820.3 1450.9,1812.3 1455.7,1805.4C1463.1,1794.8 1470.3,1784.1 1476.0,1772.5C1481.1,1762.0 1484.9,1750.8 1488.5,1739.7C1492.7,1726.5 1495.3,1712.9 1498.6,1699.4C1502.1,1685.1 1505.5,1670.8 1508.7,1656.5C1514.1,1632.1 1518.8,1607.6 1523.0,1583.0C1532.1,1530.0 1537.5,1476.5 1543.0,1423.0C1546.5,1389.4 1549.6,1355.7 1552.0,1322.0C1554.4,1288.4 1556.1,1254.7 1557.5,1221.0C1558.7,1190.3 1559.2,1159.7 1560.0,1129.0" stroke="#9a32cd" stroke-dasharray="10 10"/>
<path d="M1025.1,1176.1C1033.4,1175.8 1041.7,1175.6 1050.0,1175.3C1066.0,1174.8 1082.0,1174.1 1098.0,1173.5C1130.7,1172.3 1163.4,1171.7 1196.0,1169.9C1220.6,1168.6 1245.1,1167.1 1269.6,1165.0C1294.1,1162.9 1318.6,1160.3 1343.0,1157.6C1363.5,1155.3 1384.0,1153.0 1404.4,1150.2C1420.8,1148.0 1437.1,1145.8 1453.4,1142.9C1465.7,1140.7 1478.0,1138.2 1490.2,1135.5C1498.4,1133.7 1506.5,1131.8 1514.7,1129.9" stroke="#9a32cd" stroke-dasharray="10 10"/>
<path d="M1025.1,1232.0C1033.4,1232.2 1041.7,1232.5 1050.0,1232.7C1066.0,1233.1 1082.0,1233.5 1098.0,1233.6C1122.5,1233.7 1147.1,1233.4 1171.6,1232.4C1196.1,1231.4 1220.6,1229.9 1245.0,1227.5C1269.6,1225.0 1294.2,1221.5 1318.6,1217.6C1339.1,1214.3 1359.7,1211.0 1380.0,1206.6C1396.4,1203.0 1412.8,1199.2 1428.9,1194.4C1441.3,1190.7 1453.8,1187.0 1465.7,1182.0C1476.6,1177.4 1487.6,1172.6 1497.5,1166.2C1505.3,1161.1 1512.2,1154.8 1519.6,1149.0C1525.3,1144.5 1531.3,1140.2 1536.8,1135.5C1538.9,1133.7 1540.9,1131.8 1543.0,1130.0" stroke="#9a32cd" stroke-dasharray="10 10"/>
<path d="M1015.3,1337.6C1023.5,1337.9 1031.8,1338.1 1040.0,1338.3C1051.2,1338.6 1062.3,1338.8 1073.5,1339.0C1098.0,1339.5 1122.5,1340.5 1147.0,1340.7C1171.5,1340.9 1196.1,1341.1 1220.6,1340.2C1236.9,1339.6 1253.3,1338.5 1269.6,1337.3C1290.1,1335.8 1310.5,1334.1 1330.9,1331.6C1347.3,1329.6 1363.8,1327.5 1380.0,1324.3C1392.3,1321.9 1404.8,1319.8 1416.7,1315.7C1427.7,1311.9 1438.6,1307.2 1448.5,1301.0C1457.4,1295.4 1465.6,1288.8 1473.0,1281.4C1480.4,1274.0 1486.5,1265.4 1492.6,1256.9C1498.8,1248.2 1504.4,1239.1 1509.8,1229.9C1515.9,1219.5 1521.7,1208.9 1527.0,1198.0C1532.4,1186.8 1537.2,1175.3 1541.7,1163.7C1545.2,1154.8 1548.8,1146.0 1551.5,1136.8C1552.2,1134.5 1552.8,1132.3 1553.4,1130.0" stroke="#9a32cd" stroke-dasharray="10 10"/>
<path d="M1030.9,1389.6C1037.3,1389.8 1043.6,1390.0 1050.0,1390.2C1057.8,1390.4 1065.7,1390.7 1073.5,1390.9C1098.0,1391.7 1122.5,1392.9 1147.0,1393.4C1171.5,1393.9 1196.1,1394.2 1220.6,1393.6C1241.0,1393.1 1261.5,1392.3 1281.9,1390.9C1302.3,1389.5 1322.8,1388.5 1343.0,1385.5C1359.5,1383.0 1376.0,1379.9 1392.2,1375.7C1405.4,1372.3 1419.0,1369.3 1431.4,1363.5C1440.9,1359.1 1450.1,1354.0 1458.3,1347.5C1465.6,1341.8 1472.1,1335.1 1478.0,1327.9C1483.6,1321.1 1488.1,1313.5 1492.6,1305.9C1498.2,1296.4 1502.8,1286.4 1507.4,1276.5C1512.7,1265.2 1517.5,1253.6 1522.0,1242.0C1526.4,1230.7 1530.4,1219.3 1534.3,1207.8C1538.7,1194.8 1542.8,1181.8 1546.6,1168.6C1549.6,1158.1 1552.7,1147.5 1555.0,1136.8C1555.5,1134.4 1556.0,1131.9 1556.5,1129.5" stroke="#9a32cd" stroke-dasharray="10 10"/>
<path d="M1026.0,1439.6C1037.3,1440.0 1048.7,1440.6 1060.0,1441.0C1075.4,1441.6 1090.9,1442.0 1106.3,1442.5C1135.5,1443.5 1164.7,1445.8 1193.9,1446.0C1223.1,1446.2 1252.3,1445.7 1281.4,1443.8C1302.0,1442.5 1322.6,1440.9 1343.0,1438.0C1359.4,1435.6 1375.9,1433.1 1392.0,1429.0C1402.0,1426.4 1412.0,1423.7 1421.6,1420.0C1428.3,1417.4 1435.1,1415.1 1441.2,1411.3C1448.6,1406.7 1454.8,1400.3 1460.8,1394.0C1467.2,1387.2 1472.7,1379.7 1478.0,1372.0C1483.4,1364.2 1488.2,1355.9 1492.6,1347.5C1497.2,1338.8 1501.1,1329.7 1504.9,1320.6C1509.3,1310.1 1513.2,1299.4 1517.0,1288.7C1521.4,1276.5 1525.5,1264.3 1529.4,1252.0C1533.3,1239.8 1536.8,1227.5 1540.4,1215.2C1543.5,1204.5 1546.7,1193.8 1549.5,1183.0C1552.1,1173.0 1555.0,1163.0 1556.6,1152.8C1557.8,1145.1 1558.2,1137.3 1559.0,1129.5" stroke="#9a32cd" stroke-dasharray="10 10"/>
<path d="M1010.7,1486.3C1028.0,1487.5 1045.3,1488.7 1062.6,1489.8C1091.7,1491.7 1120.8,1493.7 1150.0,1495.0C1179.2,1496.3 1208.4,1497.8 1237.6,1497.7C1266.8,1497.6 1296.2,1497.5 1325.2,1494.2C1347.2,1491.7 1369.4,1489.0 1390.8,1483.2C1394.7,1482.1 1398.6,1481.0 1402.5,1479.8C1412.8,1476.6 1423.6,1474.1 1432.8,1468.5C1441.5,1463.2 1448.8,1455.9 1455.6,1448.3C1462.4,1440.6 1468.0,1431.8 1473.2,1423.0C1478.0,1414.9 1482.0,1406.3 1485.9,1397.8C1490.5,1387.9 1494.5,1377.7 1498.5,1367.5C1502.1,1358.3 1506.2,1349.3 1508.6,1339.7C1510.1,1333.9 1510.8,1327.9 1512.0,1322.0C1519.2,1287.5 1534.7,1255.2 1543.0,1221.0C1550.3,1190.7 1554.3,1159.7 1560.0,1129.0" stroke="#9a32cd" stroke-dasharray="10 10"/>
<path d="M1012.9,1534.7C1029.4,1536.1 1046.0,1537.4 1062.6,1538.8C1091.7,1541.2 1120.8,1544.2 1150.0,1545.8C1179.2,1547.4 1208.4,1548.5 1237.6,1548.4C1266.8,1548.3 1296.2,1548.6 1325.2,1545.4C1343.6,1543.4 1362.4,1542.2 1380.0,1536.6C1386.8,1534.4 1393.3,1531.4 1400.0,1529.0C1410.8,1525.2 1422.7,1524.4 1432.8,1519.0C1442.3,1513.9 1450.7,1506.7 1458.0,1498.8C1465.0,1491.3 1470.5,1482.4 1475.8,1473.5C1480.6,1465.4 1484.6,1456.9 1488.4,1448.3C1493.2,1437.6 1497.3,1426.6 1501.0,1415.5C1511.1,1385.3 1512.9,1353.0 1520.0,1322.0C1527.8,1288.1 1539.1,1255.1 1546.0,1221.0C1552.1,1190.6 1555.3,1159.7 1560.0,1129.0" stroke="#9a32cd" stroke-dasharray="10 10"/>
<path d="M1042.6,1586.9C1063.8,1588.4 1085.1,1589.9 1106.3,1591.3C1135.5,1593.3 1164.7,1595.9 1193.9,1597.0C1223.0,1598.1 1252.3,1599.0 1281.4,1597.9C1310.7,1596.8 1340.2,1595.9 1369.0,1590.5C1372.7,1589.8 1376.3,1589.1 1380.0,1588.3C1394.0,1585.3 1408.9,1584.2 1421.4,1577.3C1428.4,1573.4 1434.7,1568.4 1440.6,1563.0C1447.2,1557.0 1453.1,1550.2 1458.2,1542.9C1463.2,1535.8 1466.8,1527.7 1470.9,1520.0C1474.4,1513.4 1477.8,1506.8 1481.0,1500.0C1492.7,1475.3 1501.5,1449.3 1509.0,1423.0C1518.4,1390.0 1521.3,1355.6 1528.0,1322.0C1534.7,1288.3 1543.5,1254.9 1549.0,1221.0C1553.9,1190.5 1556.3,1159.7 1560.0,1129.0" stroke="#9a32cd" stroke-dasharray="10 10"/>
<path d="M1052.6,1636.8C1070.5,1638.5 1088.4,1640.5 1106.3,1642.0C1135.5,1644.4 1164.7,1646.2 1193.9,1647.3C1223.0,1648.4 1252.2,1649.8 1281.4,1648.7C1310.7,1647.6 1340.1,1645.8 1369.0,1640.8C1372.7,1640.2 1376.3,1639.5 1380.0,1638.8C1394.0,1636.0 1408.9,1634.6 1421.4,1627.7C1428.4,1623.9 1434.8,1619.0 1440.6,1613.6C1448.5,1606.3 1454.9,1597.3 1460.8,1588.3C1465.6,1581.1 1469.7,1573.4 1473.4,1565.6C1477.3,1557.4 1480.3,1548.9 1483.5,1540.4C1487.0,1531.2 1490.4,1521.9 1493.6,1512.6C1503.6,1483.3 1511.3,1453.2 1518.0,1423.0C1525.4,1389.7 1529.4,1355.7 1535.0,1322.0C1540.6,1288.3 1547.2,1254.8 1551.5,1221.0C1555.3,1190.4 1557.2,1159.7 1560.0,1129.0" stroke="#9a32cd" stroke-dasharray="10 10"/>
<path d="M1026.0,1676.6C1052.8,1677.4 1079.5,1678.2 1106.3,1678.9C1150.1,1680.1 1193.8,1682.2 1237.6,1682.4C1274.1,1682.6 1310.5,1681.6 1347.0,1681.0C1358.0,1680.8 1369.0,1681.3 1380.0,1680.4C1391.0,1679.5 1402.0,1678.6 1412.7,1675.8C1421.4,1673.5 1430.8,1671.9 1438.0,1666.6C1446.3,1660.5 1450.1,1649.9 1455.7,1641.3C1460.1,1634.7 1464.6,1628.1 1468.3,1621.1C1472.2,1613.8 1475.2,1606.0 1478.4,1598.4C1481.9,1590.1 1485.4,1581.7 1488.5,1573.2C1491.2,1565.7 1493.6,1558.1 1496.0,1550.5C1498.7,1542.1 1501.2,1533.7 1503.7,1525.2C1505.4,1519.3 1507.1,1513.5 1508.7,1507.6C1516.2,1479.8 1521.1,1451.4 1526.0,1423.0C1531.8,1389.5 1535.5,1355.7 1540.0,1322.0C1544.5,1288.4 1549.6,1254.8 1553.0,1221.0C1556.1,1190.4 1557.7,1159.7 1560.0,1129.0" stroke="#9a32cd" stroke-dasharray="10 10"/>
<path d="M1033.9,1729.3C1058.0,1731.2 1082.1,1733.3 1106.3,1734.9C1135.5,1736.8 1164.7,1738.6 1193.9,1739.2C1223.1,1739.8 1252.3,1740.2 1281.4,1738.4C1310.7,1736.6 1340.2,1734.4 1369.0,1728.3C1374.4,1727.2 1379.7,1726.0 1385.0,1724.6C1397.4,1721.3 1410.0,1717.9 1421.4,1712.0C1427.2,1709.0 1433.1,1706.1 1438.0,1701.9C1445.8,1695.2 1449.9,1685.2 1455.7,1676.7C1460.8,1669.2 1466.5,1662.0 1470.9,1654.0C1474.9,1646.7 1478.0,1638.9 1481.0,1631.2C1484.9,1621.3 1488.0,1611.2 1491.0,1601.0C1493.9,1591.0 1496.2,1580.8 1498.6,1570.7C1501.2,1559.8 1503.6,1548.8 1506.2,1537.9C1508.6,1527.8 1511.4,1517.7 1513.8,1507.6C1520.5,1479.6 1526.2,1451.4 1531.0,1423.0C1536.7,1389.5 1540.1,1355.7 1544.0,1322.0C1547.9,1288.4 1551.8,1254.7 1554.5,1221.0C1557.0,1190.4 1558.2,1159.7 1560.0,1129.0" stroke="#9a32cd" stroke-dasharray="10 10"/>
<path d="M1018.5,1776.8C1040.5,1778.9 1062.5,1781.1 1084.5,1783.0C1113.6,1785.5 1142.8,1788.1 1172.0,1789.6C1201.1,1791.1 1230.3,1792.2 1259.5,1791.8C1288.7,1791.4 1318.2,1792.4 1347.0,1787.4C1358.1,1785.5 1369.0,1782.6 1380.0,1780.0C1390.9,1777.4 1402.5,1776.6 1412.7,1772.0C1420.9,1768.3 1428.6,1763.2 1435.5,1757.4C1443.3,1750.9 1449.8,1743.0 1455.7,1734.7C1461.8,1726.1 1466.1,1716.3 1470.9,1707.0C1474.4,1700.3 1477.9,1693.6 1481.0,1686.7C1484.7,1678.5 1488.0,1670.0 1491.0,1661.5C1495.0,1649.9 1498.1,1637.9 1501.0,1626.0C1504.0,1613.5 1506.2,1600.9 1508.7,1588.3C1511.3,1575.7 1513.8,1563.1 1516.3,1550.5C1518.8,1537.9 1521.5,1525.3 1523.8,1512.6C1529.1,1482.9 1532.2,1452.9 1536.0,1423.0C1540.2,1389.4 1544.2,1355.7 1547.5,1322.0C1550.7,1288.4 1553.4,1254.7 1555.5,1221.0C1557.4,1190.4 1558.5,1159.7 1560.0,1129.0" stroke="#9a32cd" stroke-dasharray="10 10"/>
<path d="M1018.6,1819.4C1047.8,1820.4 1077.1,1821.4 1106.3,1822.4C1150.1,1823.9 1193.8,1826.4 1237.6,1826.8C1274.1,1827.1 1310.6,1828.0 1347.0,1825.5C1360.6,1824.6 1374.1,1823.7 1387.6,1821.8C1398.5,1820.3 1409.6,1819.5 1420.0,1816.0C1427.2,1813.6 1434.5,1811.1 1440.6,1806.6C1448.1,1801.1 1452.6,1792.4 1458.2,1785.0C1462.6,1779.3 1467.2,1773.7 1470.9,1767.5C1477.0,1757.4 1481.0,1746.1 1485.0,1735.0C1489.5,1722.6 1492.6,1709.7 1496.0,1697.0C1499.7,1683.1 1502.9,1669.0 1506.0,1655.0C1511.3,1631.1 1515.8,1607.1 1520.0,1583.0C1529.1,1530.0 1534.2,1476.4 1540.0,1423.0C1543.7,1389.4 1547.2,1355.7 1550.0,1322.0C1552.7,1288.4 1554.8,1254.7 1556.5,1221.0C1558.0,1190.4 1558.8,1159.7 1560.0,1129.0" stroke="#9a32cd" stroke-dasharray="10 10"/>
<path d="M994.9,1923.8C1017.5,1922.9 1040.0,1922.1 1062.6,1920.9C1106.4,1918.6 1150.1,1915.1 1193.9,1912.0C1223.1,1909.9 1252.2,1907.7 1281.4,1905.5C1310.6,1903.3 1340.0,1903.0 1369.0,1899.0C1375.2,1898.1 1381.4,1897.2 1387.6,1896.2C1401.9,1893.9 1418.1,1896.1 1430.5,1888.6C1434.1,1886.4 1437.6,1884.0 1440.6,1881.0C1446.7,1874.9 1449.5,1866.2 1453.2,1858.4C1457.1,1850.2 1460.4,1841.6 1463.3,1833.0C1467.9,1819.1 1469.8,1804.4 1473.4,1790.2C1476.6,1777.6 1479.5,1764.8 1483.5,1752.4C1487.1,1741.3 1492.5,1730.8 1496.0,1719.6C1500.4,1705.6 1502.9,1691.0 1506.2,1676.7C1509.7,1661.6 1513.4,1646.5 1516.3,1631.2C1519.3,1615.3 1521.2,1599.3 1523.8,1583.3C1526.3,1568.2 1528.9,1553.0 1531.4,1537.9C1533.5,1525.3 1535.8,1512.7 1537.7,1500.0C1541.4,1474.5 1543.6,1448.7 1546.0,1423.0C1549.1,1389.4 1551.4,1355.7 1553.5,1322.0C1555.6,1288.4 1557.3,1254.7 1558.5,1221.0C1559.6,1190.3 1559.8,1159.7 1560.5,1129.0" stroke="#9a32cd" stroke-dasharray="10 10"/>
</g>
<polygon points="1032.8,72.9 1046.0,68.0 1046.2,77.4" fill="#191970" stroke="#191970" stroke-width="1" shape-rendering="crispEdges"/>
<polygon points="245.5,228.0 258.0,221.5 259.3,230.8" fill="#191970" stroke="#191970" stroke-width="1" shape-rendering="crispEdges"/>
<polygon points="245.5,242.7 259.3,239.7 258.1,249.0" fill="#191970" stroke="#191970" stroke-width="1" shape-rendering="crispEdges"/>
<polygon points="2567.8,172.5 2554.1,176.0 2555.0,166.6" fill="#191970" stroke="#191970" stroke-width="1" shape-rendering="crispEdges"/>
<polygon points="999.5,32.0 1012.9,27.6 1012.7,37.0" fill="#9a32cd" stroke="#9a32cd" stroke-width="1" shape-rendering="crispEdges"/>
<polygon points="1509.3,47.9 1495.3,49.7 1497.3,40.6" fill="#9a32cd" stroke="#9a32cd" stroke-width="1" shape-rendering="crispEdges"/>
<polygon points="1613.8,56.4 1627.2,52.1 1627.0,61.5" fill="#9a32cd" stroke="#9a32cd" stroke-width="1" shape-rendering="crispEdges"/>
<polygon points="1438.0,126.5 1451.4,122.0 1451.2,131.4" fill="#9a32cd" stroke="#9a32cd" stroke-width="1" shape-rendering="crispEdges"/>
<polygon points="1661.8,165.4 1675.1,160.7 1675.1,170.1" fill="#9a32cd" stroke="#9a32cd" stroke-width="1" shape-rendering="crispEdges"/>
<polygon points="949.5,188.0 963.0,183.8 962.6,193.2" fill="#9a32cd" stroke="#9a32cd" stroke-width="1" shape-rendering="crispEdges"/>
<polygon points="1646.0,216.3 1659.2,211.4 1659.4,220.8" fill="#9a32cd" stroke="#9a32cd" stroke-width="1" shape-rendering="crispEdges"/>
<polygon points="2126.0,157.5 2139.3,152.8 2139.3,162.2" fill="#9a32cd" stroke="#9a32cd" stroke-width="1" shape-rendering="crispEdges"/>
<polygon points="2459.7,148.8 2472.2,142.3 2473.5,151.6" fill="#9a32cd" stroke="#9a32cd" stroke-width="1" shape-rendering="crispEdges"/>
<polygon points="2413.4,172.0 2427.4,173.8 2423.1,182.2" fill="#9a32cd" stroke="#9a32cd" stroke-width="1" shape-rendering="crispEdges"/>
<polygon points="400.6,387.3 413.9,382.6 413.9,392.0" fill="#9a32cd" stroke="#9a32cd" stroke-width="1" shape-rendering="crispEdges"/>
<polygon points="245.5,233.3 258.7,228.4 258.9,237.8" fill="#9a32cd" stroke="#9a32cd" stroke-width="1" shape-rendering="crispEdges"/>
<polygon points="865.2,333.3 851.6,336.9 852.3,327.6" fill="#9a32cd" stroke="#9a32cd" stroke-width="1" shape-rendering="crispEdges"/>
<polygon points="993.6,327.4 1006.2,321.0 1007.4,330.3" fill="#9a32cd" stroke="#9a32cd" stroke-width="1" shape-rendering="crispEdges"/>
<polygon points="993.6,329.0 1006.2,322.6 1007.4,332.0" fill="#9a32cd" stroke="#9a32cd" stroke-width="1" shape-rendering="crispEdges"/>
<polygon points="1116.0,377.2 1129.2,372.1 1129.4,381.5" fill="#9a32cd" stroke="#9a32cd" stroke-width="1" shape-rendering="crispEdges"/>
<polygon points="849.3,609.5 835.6,613.0 836.5,603.7" fill="#9a32cd" stroke="#9a32cd" stroke-width="1" shape-rendering="crispEdges"/>
<polygon points="1094.0,400.8 1108.1,401.9 1104.3,410.5" fill="#9a32cd" stroke="#9a32cd" stroke-width="1" shape-rendering="crispEdges"/>
<polygon points="1061.3,439.8 1075.4,439.1 1072.7,448.1" fill="#9a32cd" stroke="#9a32cd" stroke-width="1" shape-rendering="crispEdges"/>
<polygon points="1008.6,482.7 1022.1,478.7 1021.6,488.1" fill="#9a32cd" stroke="#9a32cd" stroke-width="1" shape-rendering="crispEdges"/>
<polygon points="1077.5,541.0 1091.6,540.6 1088.7,549.6" fill="#9a32cd" stroke="#9a32cd" stroke-width="1" shape-rendering="crispEdges"/>
<polygon points="1009.8,621.2 1023.3,617.1 1022.9,626.5" fill="#9a32cd" stroke="#9a32cd" stroke-width="1" shape-rendering="crispEdges"/>
<polygon points="1032.8,669.0 1046.3,664.8 1045.9,674.2" fill="#9a32cd" stroke="#9a32cd" stroke-width="1" shape-rendering="crispEdges"/>
<polygon points="1012.9,713.0 1026.3,708.6 1026.1,718.0" fill="#9a32cd" stroke="#9a32cd" stroke-width="1" shape-rendering="crispEdges"/>
<polygon points="1013.8,761.4 1027.2,756.9 1027.0,766.3" fill="#9a32cd" stroke="#9a32cd" stroke-width="1" shape-rendering="crispEdges"/>
<polygon points="1029.0,809.2 1042.4,804.7 1042.2,814.1" fill="#9a32cd" stroke="#9a32cd" stroke-width="1" shape-rendering="crispEdges"/>
<polygon points="1017.8,862.5 1031.5,859.2 1030.5,868.5" fill="#9a32cd" stroke="#9a32cd" stroke-width="1" shape-rendering="crispEdges"/>
<polygon points="1031.6,914.6 1045.2,910.9 1044.5,920.3" fill="#9a32cd" stroke="#9a32cd" stroke-width="1" shape-rendering="crispEdges"/>
<polygon points="1005.5,966.7 1019.4,964.2 1017.9,973.5" fill="#9a32cd" stroke="#9a32cd" stroke-width="1" shape-rendering="crispEdges"/>
<polygon points="296.3,983.6 309.7,979.3 309.4,988.7" fill="#9a32cd" stroke="#9a32cd" stroke-width="1" shape-rendering="crispEdges"/>
<polygon points="1029.0,1067.8 1042.5,1063.6 1042.1,1073.0" fill="#9a32cd" stroke="#9a32cd" stroke-width="1" shape-rendering="crispEdges"/>
<polygon points="1560.0,1103.2 1559.5,1089.1 1568.5,1091.9" fill="#9a32cd" stroke="#9a32cd" stroke-width="1" shape-rendering="crispEdges"/>
<polygon points="1567.5,1103.2 1569.3,1089.2 1577.7,1093.5" fill="#9a32cd" stroke="#9a32cd" stroke-width="1" shape-rendering="crispEdges"/>
<polygon points="2023.2,492.4 2013.7,502.8 2009.3,494.6" fill="#9a32cd" stroke="#9a32cd" stroke-width="1" shape-rendering="crispEdges"/>
<polygon points="1991.2,1046.8 1978.0,1051.7 1977.8,1042.3" fill="#9a32cd" stroke="#9a32cd" stroke-width="1" shape-rendering="crispEdges"/>
<polygon points="1623.9,1115.4 1636.9,1110.0 1637.4,1119.4" fill="#9a32cd" stroke="#9a32cd" stroke-width="1" shape-rendering="crispEdges"/>
<polygon points="1969.1,1173.5 1955.3,1176.5 1956.5,1167.2" fill="#9a32cd" stroke="#9a32cd" stroke-width="1" shape-rendering="crispEdges"/>
<polygon points="1581.0,1129.2 1594.6,1133.1 1589.1,1140.8" fill="#9a32cd" stroke="#9a32cd" stroke-width="1" shape-rendering="crispEdges"/>
<polygon points="981.6,1942.7 995.4,1940.0 994.1,1949.3" fill="#9a32cd" stroke="#9a32cd" stroke-width="1" shape-rendering="crispEdges"/>
<polygon points="2040.5,1977.8 2029.8,1968.6 2038.0,1963.9" fill="#9a32cd" stroke="#9a32cd" stroke-width="1" shape-rendering="crispEdges"/>
<polygon points="1560.0,1128.7 1569.6,1139.0 1561.0,1142.8" fill="#9a32cd" stroke="#9a32cd" stroke-width="1" shape-rendering="crispEdges"/>
<polygon points="238.5,1099.6 250.1,1091.5 252.6,1100.6" fill="#9a32cd" stroke="#9a32cd" stroke-width="1" shape-rendering="crispEdges"/>
<polygon points="296.3,976.6 309.4,971.3 309.8,980.7" fill="#9a32cd" stroke="#9a32cd" stroke-width="1" shape-rendering="crispEdges"/>
<polygon points="234.0,1125.4 248.0,1127.4 243.6,1135.8" fill="#9a32cd" stroke="#9a32cd" stroke-width="1" shape-rendering="crispEdges"/>
<polygon points="335.7,1267.6 347.8,1260.3 349.7,1269.5" fill="#9a32cd" stroke="#9a32cd" stroke-width="1" shape-rendering="crispEdges"/>
<polygon points="335.7,1291.7 349.2,1287.6 348.8,1297.0" fill="#9a32cd" stroke="#9a32cd" stroke-width="1" shape-rendering="crispEdges"/>
<polygon points="315.0,1293.4 328.8,1290.3 327.6,1299.7" fill="#9a32cd" stroke="#9a32cd" stroke-width="1" shape-rendering="crispEdges"/>
<polygon points="263.5,1838.6 276.5,1833.1 277.1,1842.5" fill="#9a32cd" stroke="#9a32cd" stroke-width="1" shape-rendering="crispEdges"/>
<polygon points="263.5,1840.8 277.0,1836.6 276.6,1846.0" fill="#9a32cd" stroke="#9a32cd" stroke-width="1" shape-rendering="crispEdges"/>
<polygon points="1011.8,1176.5 1024.9,1171.4 1025.2,1180.8" fill="#9a32cd" stroke="#9a32cd" stroke-width="1" shape-rendering="crispEdges"/>
<polygon points="1011.8,1231.6 1025.2,1227.3 1025.0,1236.7" fill="#9a32cd" stroke="#9a32cd" stroke-width="1" shape-rendering="crispEdges"/>
<polygon points="1002.0,1337.3 1015.4,1333.0 1015.2,1342.3" fill="#9a32cd" stroke="#9a32cd" stroke-width="1" shape-rendering="crispEdges"/>
<polygon points="1017.6,1389.2 1031.0,1384.9 1030.7,1394.3" fill="#9a32cd" stroke="#9a32cd" stroke-width="1" shape-rendering="crispEdges"/>
<polygon points="1012.7,1439.0 1026.2,1434.9 1025.8,1444.3" fill="#9a32cd" stroke="#9a32cd" stroke-width="1" shape-rendering="crispEdges"/>
<polygon points="997.4,1485.4 1011.0,1481.6 1010.4,1491.0" fill="#9a32cd" stroke="#9a32cd" stroke-width="1" shape-rendering="crispEdges"/>
<polygon points="999.6,1533.6 1013.2,1530.0 1012.5,1539.4" fill="#9a32cd" stroke="#9a32cd" stroke-width="1" shape-rendering="crispEdges"/>
<polygon points="1029.3,1586.0 1042.9,1582.2 1042.2,1591.6" fill="#9a32cd" stroke="#9a32cd" stroke-width="1" shape-rendering="crispEdges"/>
<polygon points="1039.4,1635.5 1053.1,1632.1 1052.2,1641.5" fill="#9a32cd" stroke="#9a32cd" stroke-width="1" shape-rendering="crispEdges"/>
<polygon points="1012.7,1676.2 1026.1,1671.9 1025.9,1681.3" fill="#9a32cd" stroke="#9a32cd" stroke-width="1" shape-rendering="crispEdges"/>
<polygon points="1020.6,1728.3 1034.2,1724.6 1033.5,1734.0" fill="#9a32cd" stroke="#9a32cd" stroke-width="1" shape-rendering="crispEdges"/>
<polygon points="1005.3,1775.6 1019.0,1772.2 1018.1,1781.5" fill="#9a32cd" stroke="#9a32cd" stroke-width="1" shape-rendering="crispEdges"/>
<polygon points="1005.3,1818.9 1018.8,1814.7 1018.4,1824.1" fill="#9a32cd" stroke="#9a32cd" stroke-width="1" shape-rendering="crispEdges"/>
<polygon points="981.6,1924.4 994.7,1919.1 995.1,1928.5" fill="#9a32cd" stroke="#9a32cd" stroke-width="1" shape-rendering="crispEdges"/>
<g font-family="Liberation Sans, sans-serif" font-size="13.33px" text-anchor="middle" fill="#000">
<rect x="861.5" y="17.5" width="138" height="26" fill="#fff" stroke="#000"/>
<text x="927.5" y="34.6">ACE_Reactor_Impl</text>
<rect x="827.5" y="65.5" width="205" height="26" fill="#fff" stroke="#000"/>
<text x="927.0" y="82.6">ACE_Reactor_Timer_Interface</text>
<rect x="1140.5" y="113.5" width="297" height="26" fill="#fff" stroke="#000"/>
<text x="1286.0" y="130.6">ACE_Reverse_Lock&lt; TAO_SYNCH_MUTEX &gt;</text>
<rect x="1463.5" y="155.5" width="198" height="25" fill="#fff" stroke="#000"/>
<text x="1559.5" y="172.1">TAO_New_Leader_Generator</text>
<rect x="911.5" y="175.5" width="38" height="25" fill="#fff" stroke="#bfbfbf"/>
<text x="927.5" y="192.1">T</text>
<rect x="1479.5" y="203.5" width="166" height="25" fill="#fff" stroke="#000"/>
<text x="1559.5" y="220.1">ACE_Intrusive_List&lt; T &gt;</text>
<rect x="160.5" y="224.5" width="85" height="25" fill="#fff" stroke="#000"/>
<text x="200.0" y="241.1">ACE_Lock</text>
<rect x="865.5" y="327.5" width="128" height="25" fill="#fff" stroke="#000"/>
<text x="926.5" y="344.1">ACE_Time_Value</text>
<rect x="7.5" y="375.5" width="393" height="25" fill="#fff" stroke="#000"/>
<text x="201.0" y="392.1">ACE_Atomic_Op_Ex&lt; TAO_SYNCH_MUTEX, unsigned long &gt;</text>
<rect x="744.5" y="375.5" width="371" height="25" fill="#fff" stroke="#000"/>
<text x="927.0" y="392.1">ACE_Atomic_Op&lt; TAO_SYNCH_MUTEX, unsigned long &gt;</text>
<rect x="799.5" y="423.5" width="262" height="25" fill="#fff" stroke="#ff0000"/>
<text x="927.5" y="440.1">TAO_Network_Priority_Protocols_Hooks</text>
<rect x="851.5" y="471.5" width="157" height="25" fill="#fff" stroke="#ff0000"/>
<text x="927.0" y="488.1">TAO_Protocols_Hooks</text>
<rect x="781.5" y="519.5" width="296" height="25" fill="#fff" stroke="#000"/>
<text x="926.5" y="536.1">ACE_Lock_Adapter&lt; TAO_SYNCH_MUTEX &gt;</text>
<rect x="849.5" y="605.5" width="160" height="26" fill="#fff" stroke="#ff0000"/>
<text x="926.5" y="622.6">ACE_Thread_Manager</text>
<rect x="828.5" y="653.5" width="204" height="26" fill="#fff" stroke="#ff0000"/>
<text x="927.5" y="670.6">TAO_Server_Strategy_Factory</text>
<rect x="848.5" y="701.5" width="164" height="26" fill="#fff" stroke="#ff0000"/>
<text x="927.5" y="718.6">TAO_Resource_Factory</text>
<rect x="845.5" y="749.5" width="168" height="26" fill="#fff" stroke="#ff0000"/>
<text x="926.5" y="766.6">TAO_Valuetype_Adapter</text>
<rect x="831.5" y="797.5" width="197" height="26" fill="#fff" stroke="#000"/>
<text x="927.0" y="814.6">TAO_IORInterceptor_Adapter</text>
<rect x="841.5" y="845.5" width="176" height="26" fill="#fff" stroke="#ff0000"/>
<text x="926.5" y="862.6">TAO_Pseudo_Var_T&lt; T &gt;</text>
<rect x="828.5" y="893.5" width="203" height="26" fill="#fff" stroke="#ff0000"/>
<text x="927.0" y="910.6">TAO_Fault_Tolerance_Service</text>
<rect x="853.5" y="941.5" width="152" height="26" fill="#fff" stroke="#ff0000"/>
<text x="926.5" y="958.6">ACE_Service_Gestalt</text>
<rect x="111.5" y="968.5" width="185" height="25" fill="#fff" stroke="#ff0000"/>
<text x="201.0" y="985.1">ACE_Unbounded_Set&lt; T &gt;</text>
<rect x="831.5" y="1052.5" width="197" height="25" fill="#fff" stroke="#000"/>
<text x="927.0" y="1069.1">TAO_Cleanup_Func_Registry</text>
<rect x="108.5" y="1100.5" width="191" height="25" fill="#fff" stroke="#ff0000"/>
<text x="201.0" y="1117.1">ACE_String_Base&lt; CHAR &gt;</text>
<rect x="1501.5" y="1103.5" width="122" height="25" fill="#fff" stroke="#000"/>
<text x="1559.5" y="1120.1">TAO_ORB_Core</text>
<rect x="849.5" y="1163.5" width="162" height="25" fill="#fff" stroke="#000"/>
<text x="927.5" y="1180.1">TAO_ORB_Parameters</text>
<rect x="849.5" y="1211.5" width="162" height="25" fill="#fff" stroke="#000"/>
<text x="927.5" y="1228.1">TAO_Object_Ref_Table</text>
<rect x="71.5" y="1267.5" width="264" height="25" fill="#fff" stroke="#000"/>
<text x="200.5" y="1284.1">ACE_Array_Map&lt; Key, Value, EqualTo &gt;</text>
<rect x="857.5" y="1321.5" width="144" height="26" fill="#fff" stroke="#ff0000"/>
<text x="926.5" y="1338.6">TAO_Policy_Current</text>
<rect x="841.5" y="1369.5" width="176" height="26" fill="#fff" stroke="#000"/>
<text x="926.5" y="1386.6">TAO_Request_Dispatcher</text>
<rect x="848.5" y="1417.5" width="164" height="26" fill="#fff" stroke="#000"/>
<text x="927.5" y="1434.6">TAO_Flushing_Strategy</text>
<rect x="863.5" y="1465.5" width="134" height="26" fill="#fff" stroke="#ff0000"/>
<text x="927.5" y="1482.6">TAO_Stub_Factory</text>
<rect x="860.5" y="1513.5" width="139" height="26" fill="#fff" stroke="#ff0000"/>
<text x="927.0" y="1530.6">TAO_BiDir_Adapter</text>
<rect x="831.5" y="1561.5" width="198" height="26" fill="#fff" stroke="#ff0000"/>
<text x="927.5" y="1578.6">TAO_Client_Strategy_Factory</text>
<rect x="821.5" y="1609.5" width="218" height="26" fill="#fff" stroke="#ff0000"/>
<text x="927.5" y="1626.6">TAO_Endpoint_Selector_Factory</text>
<rect x="847.5" y="1657.5" width="165" height="26" fill="#fff" stroke="#000"/>
<text x="927.0" y="1674.6">TAO_Codeset_Manager</text>
<rect x="839.5" y="1705.5" width="181" height="26" fill="#fff" stroke="#ff0000"/>
<text x="927.0" y="1722.6">TAO_Collocation_Resolver</text>
<rect x="855.5" y="1753.5" width="150" height="26" fill="#fff" stroke="#ff0000"/>
<text x="927.5" y="1770.6">TAO_Parser_Registry</text>
<rect x="853.5" y="1801.5" width="152" height="26" fill="#fff" stroke="#ff0000"/>
<text x="926.5" y="1818.6">TAO_Policy_Manager</text>
<rect x="144.5" y="1828.5" width="119" height="25" fill="#fff" stroke="#ff0000"/>
<text x="201.0" y="1845.1">TAO_Policy_Set</text>
<rect x="879.5" y="1916.5" width="102" height="25" fill="#fff" stroke="#000"/>
<text x="927.5" y="1933.1">TAO_Adapter</text>
<rect x="1916.5" y="1977.5" width="265" height="26" fill="#fff" stroke="#ff0000"/>
<text x="2046.0" y="1994.6">TAO_Thread_Lane_Resources_Manager</text>
<rect x="1509.5" y="44.5" width="104" height="25" fill="#fff" stroke="#000"/>
<text x="1558.5" y="61.1">ACE_Reactor</text>
<rect x="1971.5" y="145.5" width="154" height="26" fill="#fff" stroke="#000"/>
<text x="2045.5" y="162.6">TAO_Leader_Follower</text>
<rect x="2329.5" y="145.5" width="130" height="26" fill="#fff" stroke="#000"/>
<text x="2391.5" y="162.6">TAO_LF_Follower</text>
<rect x="2659.5" y="101.5" width="113" height="26" fill="#bfbfbf" stroke="#000"/>
<text x="2713.0" y="118.6">TAO_LF_Event</text>
<rect x="2563.5" y="172.5" width="304" height="25" fill="#fff" stroke="#000"/>
<text x="2712.5" y="189.1">ACE_Intrusive_List_Node&lt; TAO_LF_Follower &gt;</text>
<rect x="1996.5" y="467.5" width="105" height="25" fill="#fff" stroke="#000"/>
<text x="2046.0" y="484.1">CORBA::ORB</text>
<rect x="1991.5" y="1035.5" width="114" height="25" fill="#fff" stroke="#ff0000"/>
<text x="2045.5" y="1052.1">CORBA::Object</text>
<rect x="1969.5" y="1171.5" width="159" height="25" fill="#fff" stroke="#000"/>
<text x="2046.0" y="1188.1">TAO_Adapter_Registry</text>
<text x="1560.6" y="17.3">reactor_</text>
<text x="1287.0" y="37.0">implementation_</text>
<text x="1786.0" y="58.2">reactor_</text>
<text x="1560.6" y="127.2">reverse_lock_</text>
<text x="1786.0" y="158.8">new_leader_generator_</text>
<text x="1286.7" y="179.7">tail_</text>
<text x="1286.7" y="195.0">head_</text>
<text x="1786.0" y="182.7">follower_set_</text>
<text x="1786.0" y="196.5">follower_free_list_</text>
<text x="1287.0" y="256.7">object_init_lock_</text>
<text x="1559.7" y="289.1">timeout_</text>
<text x="1786.0" y="292.2">orb_core_</text>
<text x="928.2" y="284.7">max_time</text>
<text x="928.2" y="300.0">zero</text>
<text x="1285.8" y="316.7">thread_per_connection_timeout_</text>
<text x="1560.6" y="363.9">refcount_</text>
<text x="1287.0" y="435.2">refcount_</text>
<text x="1287.0" y="479.9">network_priority_protocols_hooks_</text>
<text x="1286.7" y="525.0">protocols_hooks_</text>
<text x="1287.0" y="570.9">data_block_lock_</text>
<text x="927.4" y="577.1">thr_mgr_</text>
<text x="1286.7" y="621.2">tm_</text>
<text x="1286.7" y="668.1">server_factory_</text>
<text x="1786.0" y="576.2">orb_</text>
<text x="571.0" y="382.8">impl_</text>
<text x="571.0" y="942.7">processed_static_svcs_</text>
<text x="571.0" y="956.7">static_svcs_</text>
<text x="928.7" y="995.7">protocol_factories_</text>
<text x="571.0" y="1064.8">stub_factory_name_</text>
<text x="571.0" y="1079.7">collocation_resolver_name_</text>
<text x="571.0" y="1094.2">default_init_ref_</text>
<text x="571.0" y="1109.0">endpoint_selector_factory_name_</text>
<text x="571.0" y="1123.9">protocols_hooks_name_</text>
<text x="571.0" y="1138.8">poa_factory_name_</text>
<text x="570.3" y="1152.8">thread_lane_resources_manager_factory_name_</text>
<text x="571.0" y="1167.7">pref_network_</text>
<text x="571.0" y="1183.0">poa_factory_directive_</text>
<text x="928.7" y="1094.6">server_id_</text>
<text x="571.0" y="1214.9">endpoints_map_</text>
<text x="570.0" y="1272.7">table_</text>
<text x="928.7" y="1282.8">init_ref_map_</text>
<text x="1287.0" y="709.0">resource_factory_</text>
<text x="1287.0" y="756.7">valuetype_adapter_</text>
<text x="1287.0" y="804.0">ior_interceptor_adapter_</text>
<text x="1287.0" y="843.8">rt_orb_</text>
<text x="1288.0" y="858.7">poa_current_</text>
<text x="1287.0" y="873.2">rt_current_</text>
<text x="1286.2" y="888.0">root_poa_</text>
<text x="1285.8" y="931.8">ft_service_</text>
<text x="1287.0" y="980.8">config_</text>
<text x="1286.7" y="1067.9">tss_cleanup_funcs_</text>
<text x="1288.0" y="1144.0">orb_params_</text>
<text x="1287.0" y="1187.8">object_ref_table_</text>
<text x="1287.0" y="1302.9">policy_current_</text>
<text x="1286.7" y="1355.8">request_dispatcher_</text>
<text x="1786.7" y="792.6">orb_core_</text>
<text x="1786.7" y="944.0">pi_current_</text>
<text x="1787.5" y="958.5">ior_manip_factory_</text>
<text x="1786.7" y="972.9">ior_table_</text>
<text x="1786.2" y="987.8">typecode_factory_</text>
<text x="1786.2" y="1002.7">implrepo_service_</text>
<text x="1786.7" y="1017.1">codec_factory_</text>
<text x="1787.1" y="1032.0">compression_manager_</text>
<text x="1787.1" y="1046.9">dynany_factory_</text>
<text x="1786.7" y="1088.9">orb_core_</text>
<text x="1787.5" y="1127.8">adapter_registry_</text>
<text x="1786.7" y="1172.9">orb_core_</text>
<text x="1785.8" y="1344.0">thread_lane_resources_manager_</text>
<text x="1286.7" y="1407.8">flushing_strategy_</text>
<text x="1286.7" y="1460.7">stub_factory_</text>
<text x="1287.0" y="1511.9">bidir_adapter_</text>
<text x="1288.0" y="1562.7">client_factory_</text>
<text x="1286.7" y="1612.6">endpoint_selector_factory_</text>
<text x="1288.0" y="1663.8">codeset_manager_</text>
<text x="1287.0" y="1698.8">collocation_resolver_</text>
<text x="1286.7" y="1752.6">parser_registry_</text>
<text x="1287.0" y="1806.9">policy_manager_</text>
<text x="928.2" y="1846.7">default_policies_</text>
<text x="1288.0" y="1882.6">poa_adapter_</text>
<text x="1560.2" y="1750.9">adapters_</text>
<text x="1786.7" y="1695.7">orb_core_</text>
<text x="571.0" y="1815.7">impl_</text>
<text x="2252.7" y="154.7">leader_follower_</text>
<text x="2507.9" y="136.4">follower_</text>
<text x="2510.0" y="187.6">next_</text>
<text x="2510.0" y="202.9">prev_</text>
</g></svg>
</body></html>
